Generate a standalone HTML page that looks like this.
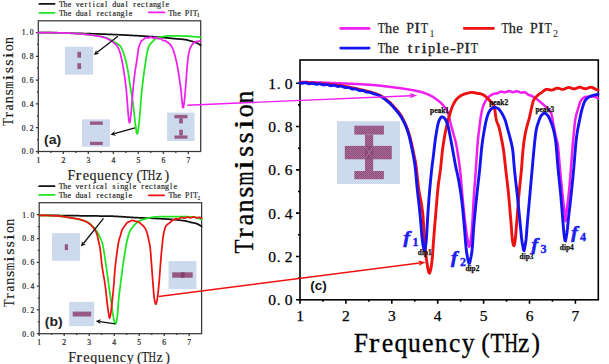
<!DOCTYPE html>
<html><head><meta charset="utf-8"><style>html,body{margin:0;padding:0;background:#fff;overflow:hidden}svg{display:block}</style></head>
<body>
<svg width="609" height="364" viewBox="0 0 609 364">
<rect width="609" height="364" fill="#fff"/>
<defs>
<pattern id="hatch" width="2" height="2" patternUnits="userSpaceOnUse">
<rect width="2" height="2" fill="#ab6e9c"/><rect width="1" height="1" fill="#8a4a7a"/><rect x="1" y="1" width="1" height="1" fill="#8a4a7a"/>
</pattern>
<pattern id="hatch2" width="2" height="2" patternUnits="userSpaceOnUse">
<rect width="2" height="2" fill="#bb88ad"/><rect width="1" height="1" fill="#a0628e"/><rect x="1" y="1" width="1" height="1" fill="#a0628e"/>
</pattern>
</defs>
<rect x="38.30" y="20.80" width="162.40" height="130.70" fill="none" stroke="#383838" stroke-width="1.25"/>
<path d="M38.30 151.50H35.90M38.30 139.60H36.90M38.30 127.70H35.90M38.30 115.80H36.90M38.30 103.90H35.90M38.30 92.00H36.90M38.30 80.10H35.90M38.30 68.20H36.90M38.30 56.30H35.90M38.30 44.40H36.90M38.30 32.50H35.90M38.30 151.50V153.90M50.80 151.50V152.90M63.30 151.50V153.90M75.80 151.50V152.90M88.30 151.50V153.90M100.80 151.50V152.90M113.30 151.50V153.90M125.80 151.50V152.90M138.30 151.50V153.90M150.80 151.50V152.90M163.30 151.50V153.90M175.80 151.50V152.90M188.30 151.50V153.90" stroke="#383838" stroke-width="1.25" fill="none"/>
<rect x="39.20" y="202.70" width="162.40" height="131.00" fill="none" stroke="#383838" stroke-width="1.25"/>
<path d="M39.20 333.70H36.80M39.20 321.80H37.80M39.20 309.90H36.80M39.20 298.00H37.80M39.20 286.10H36.80M39.20 274.20H37.80M39.20 262.30H36.80M39.20 250.40H37.80M39.20 238.50H36.80M39.20 226.60H37.80M39.20 214.70H36.80M39.20 333.70V336.10M51.70 333.70V335.10M64.20 333.70V336.10M76.70 333.70V335.10M89.20 333.70V336.10M101.70 333.70V335.10M114.20 333.70V336.10M126.70 333.70V335.10M139.20 333.70V336.10M151.70 333.70V335.10M164.20 333.70V336.10M176.70 333.70V335.10M189.20 333.70V336.10" stroke="#383838" stroke-width="1.25" fill="none"/>
<rect x="300.00" y="60.00" width="298.30" height="239.80" fill="none" stroke="#000" stroke-width="1.60"/>
<path d="M300.00 299.80H296.00M300.00 278.14H298.00M300.00 256.48H296.00M300.00 234.82H298.00M300.00 213.16H296.00M300.00 191.50H298.00M300.00 169.84H296.00M300.00 148.18H298.00M300.00 126.52H296.00M300.00 104.86H298.00M300.00 83.20H296.00M300.00 299.80V303.80M322.95 299.80V301.80M345.90 299.80V303.80M368.85 299.80V301.80M391.80 299.80V303.80M414.75 299.80V301.80M437.70 299.80V303.80M460.65 299.80V301.80M483.60 299.80V303.80M506.55 299.80V301.80M529.50 299.80V303.80M552.45 299.80V301.80M575.40 299.80V303.80" stroke="#000" stroke-width="1.60" fill="none"/>
<text x="23.60 27.20 31.70" y="154.40" text-anchor="middle" font-family="'Liberation Serif', serif" font-size="7.60" fill="#222" font-weight="normal" stroke="#222" stroke-width="0.2">0.0</text>
<text x="23.60 27.20 31.70" y="130.60" text-anchor="middle" font-family="'Liberation Serif', serif" font-size="7.60" fill="#222" font-weight="normal" stroke="#222" stroke-width="0.2">0.2</text>
<text x="23.60 27.20 31.70" y="106.80" text-anchor="middle" font-family="'Liberation Serif', serif" font-size="7.60" fill="#222" font-weight="normal" stroke="#222" stroke-width="0.2">0.4</text>
<text x="23.60 27.20 31.70" y="83.00" text-anchor="middle" font-family="'Liberation Serif', serif" font-size="7.60" fill="#222" font-weight="normal" stroke="#222" stroke-width="0.2">0.6</text>
<text x="23.60 27.20 31.70" y="59.20" text-anchor="middle" font-family="'Liberation Serif', serif" font-size="7.60" fill="#222" font-weight="normal" stroke="#222" stroke-width="0.2">0.8</text>
<text x="23.60 27.20 31.70" y="35.40" text-anchor="middle" font-family="'Liberation Serif', serif" font-size="7.60" fill="#222" font-weight="normal" stroke="#222" stroke-width="0.2">1.0</text>
<text x="38.30" y="162.70" text-anchor="middle" font-family="'Liberation Serif', serif" font-size="7.60" fill="#222" font-weight="normal" stroke="#222" stroke-width="0.2">1</text>
<text x="63.30" y="162.70" text-anchor="middle" font-family="'Liberation Serif', serif" font-size="7.60" fill="#222" font-weight="normal" stroke="#222" stroke-width="0.2">2</text>
<text x="88.30" y="162.70" text-anchor="middle" font-family="'Liberation Serif', serif" font-size="7.60" fill="#222" font-weight="normal" stroke="#222" stroke-width="0.2">3</text>
<text x="113.30" y="162.70" text-anchor="middle" font-family="'Liberation Serif', serif" font-size="7.60" fill="#222" font-weight="normal" stroke="#222" stroke-width="0.2">4</text>
<text x="138.30" y="162.70" text-anchor="middle" font-family="'Liberation Serif', serif" font-size="7.60" fill="#222" font-weight="normal" stroke="#222" stroke-width="0.2">5</text>
<text x="163.30" y="162.70" text-anchor="middle" font-family="'Liberation Serif', serif" font-size="7.60" fill="#222" font-weight="normal" stroke="#222" stroke-width="0.2">6</text>
<text x="188.30" y="162.70" text-anchor="middle" font-family="'Liberation Serif', serif" font-size="7.60" fill="#222" font-weight="normal" stroke="#222" stroke-width="0.2">7</text>
<text x="24.20 27.80 32.30" y="336.60" text-anchor="middle" font-family="'Liberation Serif', serif" font-size="7.60" fill="#222" font-weight="normal" stroke="#222" stroke-width="0.2">0.0</text>
<text x="24.20 27.80 32.30" y="312.80" text-anchor="middle" font-family="'Liberation Serif', serif" font-size="7.60" fill="#222" font-weight="normal" stroke="#222" stroke-width="0.2">0.2</text>
<text x="24.20 27.80 32.30" y="289.00" text-anchor="middle" font-family="'Liberation Serif', serif" font-size="7.60" fill="#222" font-weight="normal" stroke="#222" stroke-width="0.2">0.4</text>
<text x="24.20 27.80 32.30" y="265.20" text-anchor="middle" font-family="'Liberation Serif', serif" font-size="7.60" fill="#222" font-weight="normal" stroke="#222" stroke-width="0.2">0.6</text>
<text x="24.20 27.80 32.30" y="241.40" text-anchor="middle" font-family="'Liberation Serif', serif" font-size="7.60" fill="#222" font-weight="normal" stroke="#222" stroke-width="0.2">0.8</text>
<text x="24.20 27.80 32.30" y="217.60" text-anchor="middle" font-family="'Liberation Serif', serif" font-size="7.60" fill="#222" font-weight="normal" stroke="#222" stroke-width="0.2">1.0</text>
<text x="39.20" y="344.90" text-anchor="middle" font-family="'Liberation Serif', serif" font-size="7.60" fill="#222" font-weight="normal" stroke="#222" stroke-width="0.2">1</text>
<text x="64.20" y="344.90" text-anchor="middle" font-family="'Liberation Serif', serif" font-size="7.60" fill="#222" font-weight="normal" stroke="#222" stroke-width="0.2">2</text>
<text x="89.20" y="344.90" text-anchor="middle" font-family="'Liberation Serif', serif" font-size="7.60" fill="#222" font-weight="normal" stroke="#222" stroke-width="0.2">3</text>
<text x="114.20" y="344.90" text-anchor="middle" font-family="'Liberation Serif', serif" font-size="7.60" fill="#222" font-weight="normal" stroke="#222" stroke-width="0.2">4</text>
<text x="139.20" y="344.90" text-anchor="middle" font-family="'Liberation Serif', serif" font-size="7.60" fill="#222" font-weight="normal" stroke="#222" stroke-width="0.2">5</text>
<text x="164.20" y="344.90" text-anchor="middle" font-family="'Liberation Serif', serif" font-size="7.60" fill="#222" font-weight="normal" stroke="#222" stroke-width="0.2">6</text>
<text x="189.20" y="344.90" text-anchor="middle" font-family="'Liberation Serif', serif" font-size="7.60" fill="#222" font-weight="normal" stroke="#222" stroke-width="0.2">7</text>
<text x="272.20 278.70 288.70" y="305.30" text-anchor="middle" font-family="'Liberation Serif', serif" font-size="15.50" fill="#000" font-weight="normal" stroke="#000" stroke-width="0.25">0.0</text>
<text x="272.20 278.70 288.70" y="261.98" text-anchor="middle" font-family="'Liberation Serif', serif" font-size="15.50" fill="#000" font-weight="normal" stroke="#000" stroke-width="0.25">0.2</text>
<text x="272.20 278.70 288.70" y="218.66" text-anchor="middle" font-family="'Liberation Serif', serif" font-size="15.50" fill="#000" font-weight="normal" stroke="#000" stroke-width="0.25">0.4</text>
<text x="272.20 278.70 288.70" y="175.34" text-anchor="middle" font-family="'Liberation Serif', serif" font-size="15.50" fill="#000" font-weight="normal" stroke="#000" stroke-width="0.25">0.6</text>
<text x="272.20 278.70 288.70" y="132.02" text-anchor="middle" font-family="'Liberation Serif', serif" font-size="15.50" fill="#000" font-weight="normal" stroke="#000" stroke-width="0.25">0.8</text>
<text x="272.20 278.70 288.70" y="88.70" text-anchor="middle" font-family="'Liberation Serif', serif" font-size="15.50" fill="#000" font-weight="normal" stroke="#000" stroke-width="0.25">1.0</text>
<text x="300.00" y="321.30" text-anchor="middle" font-family="'Liberation Serif', serif" font-size="15.50" fill="#000" font-weight="normal" stroke="#000" stroke-width="0.25">1</text>
<text x="345.90" y="321.30" text-anchor="middle" font-family="'Liberation Serif', serif" font-size="15.50" fill="#000" font-weight="normal" stroke="#000" stroke-width="0.25">2</text>
<text x="391.80" y="321.30" text-anchor="middle" font-family="'Liberation Serif', serif" font-size="15.50" fill="#000" font-weight="normal" stroke="#000" stroke-width="0.25">3</text>
<text x="437.70" y="321.30" text-anchor="middle" font-family="'Liberation Serif', serif" font-size="15.50" fill="#000" font-weight="normal" stroke="#000" stroke-width="0.25">4</text>
<text x="483.60" y="321.30" text-anchor="middle" font-family="'Liberation Serif', serif" font-size="15.50" fill="#000" font-weight="normal" stroke="#000" stroke-width="0.25">5</text>
<text x="529.50" y="321.30" text-anchor="middle" font-family="'Liberation Serif', serif" font-size="15.50" fill="#000" font-weight="normal" stroke="#000" stroke-width="0.25">6</text>
<text x="575.40" y="321.30" text-anchor="middle" font-family="'Liberation Serif', serif" font-size="15.50" fill="#000" font-weight="normal" stroke="#000" stroke-width="0.25">7</text>
<text transform="translate(67.45,179.50) scale(0.949,1)" font-family="'Liberation Serif', serif" font-weight="normal" font-style="normal" font-size="14.80" fill="#1a1a1a" stroke="#1a1a1a" stroke-width="0.15">F</text>
<text transform="translate(75.59,179.50) scale(1.177,1)" font-family="'Liberation Serif', serif" font-weight="normal" font-style="normal" font-size="14.80" fill="#1a1a1a" stroke="#1a1a1a" stroke-width="0.15">r</text>
<text transform="translate(82.67,179.50) scale(0.968,1)" font-family="'Liberation Serif', serif" font-weight="normal" font-style="normal" font-size="14.80" fill="#1a1a1a" stroke="#1a1a1a" stroke-width="0.15">e</text>
<text transform="translate(89.53,179.50) scale(0.950,1)" font-family="'Liberation Serif', serif" font-weight="normal" font-style="normal" font-size="14.80" fill="#1a1a1a" stroke="#1a1a1a" stroke-width="0.15">q</text>
<text transform="translate(96.97,179.50) scale(0.950,1)" font-family="'Liberation Serif', serif" font-weight="normal" font-style="normal" font-size="14.80" fill="#1a1a1a" stroke="#1a1a1a" stroke-width="0.15">u</text>
<text transform="translate(104.54,179.50) scale(0.968,1)" font-family="'Liberation Serif', serif" font-weight="normal" font-style="normal" font-size="14.80" fill="#1a1a1a" stroke="#1a1a1a" stroke-width="0.15">e</text>
<text transform="translate(111.47,179.50) scale(0.950,1)" font-family="'Liberation Serif', serif" font-weight="normal" font-style="normal" font-size="14.80" fill="#1a1a1a" stroke="#1a1a1a" stroke-width="0.15">n</text>
<text transform="translate(119.14,179.50) scale(0.955,1)" font-family="'Liberation Serif', serif" font-weight="normal" font-style="normal" font-size="14.80" fill="#1a1a1a" stroke="#1a1a1a" stroke-width="0.15">c</text>
<text transform="translate(126.05,179.50) scale(0.950,1)" font-family="'Liberation Serif', serif" font-weight="normal" font-style="normal" font-size="14.80" fill="#1a1a1a" stroke="#1a1a1a" stroke-width="0.15">y</text>
<text transform="translate(136.38,179.50) scale(0.950,1)" font-family="'Liberation Serif', serif" font-weight="normal" font-style="normal" font-size="14.80" fill="#1a1a1a" stroke="#1a1a1a" stroke-width="0.15">(</text>
<text transform="translate(140.83,179.50) scale(0.809,1)" font-family="'Liberation Serif', serif" font-weight="normal" font-style="normal" font-size="14.80" fill="#1a1a1a" stroke="#1a1a1a" stroke-width="0.15">T</text>
<text transform="translate(147.75,179.50) scale(0.702,1)" font-family="'Liberation Serif', serif" font-weight="normal" font-style="normal" font-size="14.80" fill="#1a1a1a" stroke="#1a1a1a" stroke-width="0.15">H</text>
<text transform="translate(155.69,179.50) scale(0.950,1)" font-family="'Liberation Serif', serif" font-weight="normal" font-style="normal" font-size="14.80" fill="#1a1a1a" stroke="#1a1a1a" stroke-width="0.15">z</text>
<text transform="translate(164.44,179.50) scale(0.950,1)" font-family="'Liberation Serif', serif" font-weight="normal" font-style="normal" font-size="14.80" fill="#1a1a1a" stroke="#1a1a1a" stroke-width="0.15">)</text>
<text transform="translate(68.15,362.40) scale(0.949,1)" font-family="'Liberation Serif', serif" font-weight="normal" font-style="normal" font-size="14.80" fill="#1a1a1a" stroke="#1a1a1a" stroke-width="0.15">F</text>
<text transform="translate(76.29,362.40) scale(1.177,1)" font-family="'Liberation Serif', serif" font-weight="normal" font-style="normal" font-size="14.80" fill="#1a1a1a" stroke="#1a1a1a" stroke-width="0.15">r</text>
<text transform="translate(83.37,362.40) scale(0.968,1)" font-family="'Liberation Serif', serif" font-weight="normal" font-style="normal" font-size="14.80" fill="#1a1a1a" stroke="#1a1a1a" stroke-width="0.15">e</text>
<text transform="translate(90.23,362.40) scale(0.950,1)" font-family="'Liberation Serif', serif" font-weight="normal" font-style="normal" font-size="14.80" fill="#1a1a1a" stroke="#1a1a1a" stroke-width="0.15">q</text>
<text transform="translate(97.67,362.40) scale(0.950,1)" font-family="'Liberation Serif', serif" font-weight="normal" font-style="normal" font-size="14.80" fill="#1a1a1a" stroke="#1a1a1a" stroke-width="0.15">u</text>
<text transform="translate(105.24,362.40) scale(0.968,1)" font-family="'Liberation Serif', serif" font-weight="normal" font-style="normal" font-size="14.80" fill="#1a1a1a" stroke="#1a1a1a" stroke-width="0.15">e</text>
<text transform="translate(112.17,362.40) scale(0.950,1)" font-family="'Liberation Serif', serif" font-weight="normal" font-style="normal" font-size="14.80" fill="#1a1a1a" stroke="#1a1a1a" stroke-width="0.15">n</text>
<text transform="translate(119.84,362.40) scale(0.955,1)" font-family="'Liberation Serif', serif" font-weight="normal" font-style="normal" font-size="14.80" fill="#1a1a1a" stroke="#1a1a1a" stroke-width="0.15">c</text>
<text transform="translate(126.75,362.40) scale(0.950,1)" font-family="'Liberation Serif', serif" font-weight="normal" font-style="normal" font-size="14.80" fill="#1a1a1a" stroke="#1a1a1a" stroke-width="0.15">y</text>
<text transform="translate(137.08,362.40) scale(0.950,1)" font-family="'Liberation Serif', serif" font-weight="normal" font-style="normal" font-size="14.80" fill="#1a1a1a" stroke="#1a1a1a" stroke-width="0.15">(</text>
<text transform="translate(141.53,362.40) scale(0.809,1)" font-family="'Liberation Serif', serif" font-weight="normal" font-style="normal" font-size="14.80" fill="#1a1a1a" stroke="#1a1a1a" stroke-width="0.15">T</text>
<text transform="translate(148.45,362.40) scale(0.702,1)" font-family="'Liberation Serif', serif" font-weight="normal" font-style="normal" font-size="14.80" fill="#1a1a1a" stroke="#1a1a1a" stroke-width="0.15">H</text>
<text transform="translate(156.39,362.40) scale(0.950,1)" font-family="'Liberation Serif', serif" font-weight="normal" font-style="normal" font-size="14.80" fill="#1a1a1a" stroke="#1a1a1a" stroke-width="0.15">z</text>
<text transform="translate(165.14,362.40) scale(0.950,1)" font-family="'Liberation Serif', serif" font-weight="normal" font-style="normal" font-size="14.80" fill="#1a1a1a" stroke="#1a1a1a" stroke-width="0.15">)</text>
<text transform="translate(353.66,352.10) scale(0.950,1)" font-family="'Liberation Serif', serif" font-weight="normal" font-style="normal" font-size="27.00" fill="#000" stroke="#000" stroke-width="0.3">F</text>
<text transform="translate(368.71,352.10) scale(1.169,1)" font-family="'Liberation Serif', serif" font-weight="normal" font-style="normal" font-size="27.00" fill="#000" stroke="#000" stroke-width="0.3">r</text>
<text transform="translate(381.77,352.10) scale(0.961,1)" font-family="'Liberation Serif', serif" font-weight="normal" font-style="normal" font-size="27.00" fill="#000" stroke="#000" stroke-width="0.3">e</text>
<text transform="translate(394.38,352.10) scale(0.950,1)" font-family="'Liberation Serif', serif" font-weight="normal" font-style="normal" font-size="27.00" fill="#000" stroke="#000" stroke-width="0.3">q</text>
<text transform="translate(408.10,352.10) scale(0.950,1)" font-family="'Liberation Serif', serif" font-weight="normal" font-style="normal" font-size="27.00" fill="#000" stroke="#000" stroke-width="0.3">u</text>
<text transform="translate(422.09,352.10) scale(0.961,1)" font-family="'Liberation Serif', serif" font-weight="normal" font-style="normal" font-size="27.00" fill="#000" stroke="#000" stroke-width="0.3">e</text>
<text transform="translate(434.83,352.10) scale(0.950,1)" font-family="'Liberation Serif', serif" font-weight="normal" font-style="normal" font-size="27.00" fill="#000" stroke="#000" stroke-width="0.3">n</text>
<text transform="translate(448.99,352.10) scale(0.950,1)" font-family="'Liberation Serif', serif" font-weight="normal" font-style="normal" font-size="27.00" fill="#000" stroke="#000" stroke-width="0.3">c</text>
<text transform="translate(461.70,352.10) scale(0.950,1)" font-family="'Liberation Serif', serif" font-weight="normal" font-style="normal" font-size="27.00" fill="#000" stroke="#000" stroke-width="0.3">y</text>
<text transform="translate(481.18,352.10) scale(0.950,1)" font-family="'Liberation Serif', serif" font-weight="normal" font-style="normal" font-size="27.00" fill="#000" stroke="#000" stroke-width="0.3">(</text>
<text transform="translate(490.50,352.10) scale(0.823,1)" font-family="'Liberation Serif', serif" font-weight="normal" font-style="normal" font-size="27.00" fill="#000" stroke="#000" stroke-width="0.3">T</text>
<text transform="translate(504.14,352.10) scale(0.714,1)" font-family="'Liberation Serif', serif" font-weight="normal" font-style="normal" font-size="27.00" fill="#000" stroke="#000" stroke-width="0.3">H</text>
<text transform="translate(518.02,352.10) scale(0.950,1)" font-family="'Liberation Serif', serif" font-weight="normal" font-style="normal" font-size="27.00" fill="#000" stroke="#000" stroke-width="0.3">z</text>
<text transform="translate(531.38,352.10) scale(0.950,1)" font-family="'Liberation Serif', serif" font-weight="normal" font-style="normal" font-size="27.00" fill="#000" stroke="#000" stroke-width="0.3">)</text>
<text transform="translate(13.30,125.77) rotate(-90) scale(0.833,1)" font-family="'Liberation Serif', serif" font-weight="normal" font-style="normal" font-size="14.80" fill="#1a1a1a" stroke="#1a1a1a" stroke-width="0.15">T</text>
<text transform="translate(13.30,117.41) rotate(-90) scale(1.111,1)" font-family="'Liberation Serif', serif" font-weight="normal" font-style="normal" font-size="14.80" fill="#1a1a1a" stroke="#1a1a1a" stroke-width="0.15">r</text>
<text transform="translate(13.30,110.43) rotate(-90) scale(0.950,1)" font-family="'Liberation Serif', serif" font-weight="normal" font-style="normal" font-size="14.80" fill="#1a1a1a" stroke="#1a1a1a" stroke-width="0.15">a</text>
<text transform="translate(13.30,103.31) rotate(-90) scale(0.950,1)" font-family="'Liberation Serif', serif" font-weight="normal" font-style="normal" font-size="14.80" fill="#1a1a1a" stroke="#1a1a1a" stroke-width="0.15">n</text>
<text transform="translate(13.30,95.48) rotate(-90) scale(1.083,1)" font-family="'Liberation Serif', serif" font-weight="normal" font-style="normal" font-size="14.80" fill="#1a1a1a" stroke="#1a1a1a" stroke-width="0.15">s</text>
<text transform="translate(13.30,88.65) rotate(-90) scale(0.647,1)" font-family="'Liberation Serif', serif" font-weight="normal" font-style="normal" font-size="14.80" fill="#1a1a1a" stroke="#1a1a1a" stroke-width="0.15">m</text>
<text transform="translate(13.30,80.42) rotate(-90) scale(1.421,1)" font-family="'Liberation Serif', serif" font-weight="normal" font-style="normal" font-size="14.80" fill="#1a1a1a" stroke="#1a1a1a" stroke-width="0.15">i</text>
<text transform="translate(13.30,73.22) rotate(-90) scale(1.083,1)" font-family="'Liberation Serif', serif" font-weight="normal" font-style="normal" font-size="14.80" fill="#1a1a1a" stroke="#1a1a1a" stroke-width="0.15">s</text>
<text transform="translate(13.30,65.80) rotate(-90) scale(1.083,1)" font-family="'Liberation Serif', serif" font-weight="normal" font-style="normal" font-size="14.80" fill="#1a1a1a" stroke="#1a1a1a" stroke-width="0.15">s</text>
<text transform="translate(13.30,58.16) rotate(-90) scale(1.421,1)" font-family="'Liberation Serif', serif" font-weight="normal" font-style="normal" font-size="14.80" fill="#1a1a1a" stroke="#1a1a1a" stroke-width="0.15">i</text>
<text transform="translate(13.30,51.31) rotate(-90) scale(0.950,1)" font-family="'Liberation Serif', serif" font-weight="normal" font-style="normal" font-size="14.80" fill="#1a1a1a" stroke="#1a1a1a" stroke-width="0.15">o</text>
<text transform="translate(13.30,43.95) rotate(-90) scale(0.950,1)" font-family="'Liberation Serif', serif" font-weight="normal" font-style="normal" font-size="14.80" fill="#1a1a1a" stroke="#1a1a1a" stroke-width="0.15">n</text>
<text transform="translate(14.40,306.97) rotate(-90) scale(0.833,1)" font-family="'Liberation Serif', serif" font-weight="normal" font-style="normal" font-size="14.80" fill="#1a1a1a" stroke="#1a1a1a" stroke-width="0.15">T</text>
<text transform="translate(14.40,298.67) rotate(-90) scale(1.111,1)" font-family="'Liberation Serif', serif" font-weight="normal" font-style="normal" font-size="14.80" fill="#1a1a1a" stroke="#1a1a1a" stroke-width="0.15">r</text>
<text transform="translate(14.40,291.75) rotate(-90) scale(0.950,1)" font-family="'Liberation Serif', serif" font-weight="normal" font-style="normal" font-size="14.80" fill="#1a1a1a" stroke="#1a1a1a" stroke-width="0.15">a</text>
<text transform="translate(14.40,284.69) rotate(-90) scale(0.950,1)" font-family="'Liberation Serif', serif" font-weight="normal" font-style="normal" font-size="14.80" fill="#1a1a1a" stroke="#1a1a1a" stroke-width="0.15">n</text>
<text transform="translate(14.40,276.92) rotate(-90) scale(1.083,1)" font-family="'Liberation Serif', serif" font-weight="normal" font-style="normal" font-size="14.80" fill="#1a1a1a" stroke="#1a1a1a" stroke-width="0.15">s</text>
<text transform="translate(14.40,270.15) rotate(-90) scale(0.647,1)" font-family="'Liberation Serif', serif" font-weight="normal" font-style="normal" font-size="14.80" fill="#1a1a1a" stroke="#1a1a1a" stroke-width="0.15">m</text>
<text transform="translate(14.40,261.98) rotate(-90) scale(1.421,1)" font-family="'Liberation Serif', serif" font-weight="normal" font-style="normal" font-size="14.80" fill="#1a1a1a" stroke="#1a1a1a" stroke-width="0.15">i</text>
<text transform="translate(14.40,254.84) rotate(-90) scale(1.083,1)" font-family="'Liberation Serif', serif" font-weight="normal" font-style="normal" font-size="14.80" fill="#1a1a1a" stroke="#1a1a1a" stroke-width="0.15">s</text>
<text transform="translate(14.40,247.48) rotate(-90) scale(1.083,1)" font-family="'Liberation Serif', serif" font-weight="normal" font-style="normal" font-size="14.80" fill="#1a1a1a" stroke="#1a1a1a" stroke-width="0.15">s</text>
<text transform="translate(14.40,239.90) rotate(-90) scale(1.421,1)" font-family="'Liberation Serif', serif" font-weight="normal" font-style="normal" font-size="14.80" fill="#1a1a1a" stroke="#1a1a1a" stroke-width="0.15">i</text>
<text transform="translate(14.40,233.11) rotate(-90) scale(0.950,1)" font-family="'Liberation Serif', serif" font-weight="normal" font-style="normal" font-size="14.80" fill="#1a1a1a" stroke="#1a1a1a" stroke-width="0.15">o</text>
<text transform="translate(14.40,225.81) rotate(-90) scale(0.950,1)" font-family="'Liberation Serif', serif" font-weight="normal" font-style="normal" font-size="14.80" fill="#1a1a1a" stroke="#1a1a1a" stroke-width="0.15">n</text>
<text transform="translate(253.20,253.51) rotate(-90) scale(0.833,1)" font-family="'Liberation Serif', serif" font-weight="normal" font-style="normal" font-size="27.50" fill="#000" stroke="#000" stroke-width="0.3">T</text>
<text transform="translate(253.20,238.01) rotate(-90) scale(1.076,1)" font-family="'Liberation Serif', serif" font-weight="normal" font-style="normal" font-size="27.50" fill="#000" stroke="#000" stroke-width="0.3">r</text>
<text transform="translate(253.20,225.42) rotate(-90) scale(0.950,1)" font-family="'Liberation Serif', serif" font-weight="normal" font-style="normal" font-size="27.50" fill="#000" stroke="#000" stroke-width="0.3">a</text>
<text transform="translate(253.20,212.39) rotate(-90) scale(0.950,1)" font-family="'Liberation Serif', serif" font-weight="normal" font-style="normal" font-size="27.50" fill="#000" stroke="#000" stroke-width="0.3">n</text>
<text transform="translate(253.20,197.86) rotate(-90) scale(1.049,1)" font-family="'Liberation Serif', serif" font-weight="normal" font-style="normal" font-size="27.50" fill="#000" stroke="#000" stroke-width="0.3">s</text>
<text transform="translate(253.20,185.57) rotate(-90) scale(0.648,1)" font-family="'Liberation Serif', serif" font-weight="normal" font-style="normal" font-size="27.50" fill="#000" stroke="#000" stroke-width="0.3">m</text>
<text transform="translate(253.20,170.31) rotate(-90) scale(1.376,1)" font-family="'Liberation Serif', serif" font-weight="normal" font-style="normal" font-size="27.50" fill="#000" stroke="#000" stroke-width="0.3">i</text>
<text transform="translate(253.20,157.12) rotate(-90) scale(1.049,1)" font-family="'Liberation Serif', serif" font-weight="normal" font-style="normal" font-size="27.50" fill="#000" stroke="#000" stroke-width="0.3">s</text>
<text transform="translate(253.20,143.54) rotate(-90) scale(1.049,1)" font-family="'Liberation Serif', serif" font-weight="normal" font-style="normal" font-size="27.50" fill="#000" stroke="#000" stroke-width="0.3">s</text>
<text transform="translate(253.20,129.57) rotate(-90) scale(1.376,1)" font-family="'Liberation Serif', serif" font-weight="normal" font-style="normal" font-size="27.50" fill="#000" stroke="#000" stroke-width="0.3">i</text>
<text transform="translate(253.20,117.23) rotate(-90) scale(0.950,1)" font-family="'Liberation Serif', serif" font-weight="normal" font-style="normal" font-size="27.50" fill="#000" stroke="#000" stroke-width="0.3">o</text>
<text transform="translate(253.20,103.75) rotate(-90) scale(0.950,1)" font-family="'Liberation Serif', serif" font-weight="normal" font-style="normal" font-size="27.50" fill="#000" stroke="#000" stroke-width="0.3">n</text>
<polyline points="38.3,32.50 38.8,32.51 39.3,32.52 39.8,32.52 40.3,32.53 40.8,32.54 41.3,32.55 41.8,32.55 42.3,32.56 42.8,32.57 43.3,32.58 43.8,32.59 44.3,32.60 44.8,32.60 45.3,32.61 45.8,32.62 46.3,32.63 46.8,32.64 47.3,32.65 47.8,32.66 48.3,32.67 48.8,32.68 49.3,32.68 49.8,32.69 50.3,32.70 50.8,32.71 51.3,32.72 51.8,32.73 52.3,32.74 52.8,32.75 53.3,32.76 53.8,32.77 54.3,32.78 54.8,32.79 55.3,32.80 55.8,32.81 56.3,32.82 56.8,32.83 57.3,32.84 57.8,32.85 58.3,32.86 58.8,32.87 59.3,32.88 59.8,32.90 60.3,32.91 60.8,32.92 61.3,32.93 61.8,32.94 62.3,32.95 62.8,32.96 63.3,32.97 63.8,32.98 64.3,33.00 64.8,33.01 65.3,33.02 65.8,33.03 66.3,33.04 66.8,33.06 67.3,33.07 67.8,33.08 68.3,33.09 68.8,33.10 69.3,33.12 69.8,33.13 70.3,33.14 70.8,33.16 71.3,33.17 71.8,33.18 72.3,33.19 72.8,33.21 73.3,33.22 73.8,33.23 74.3,33.25 74.8,33.26 75.3,33.27 75.8,33.29 76.3,33.30 76.8,33.31 77.3,33.33 77.8,33.34 78.3,33.36 78.8,33.37 79.3,33.38 79.8,33.40 80.3,33.41 80.8,33.43 81.3,33.44 81.8,33.45 82.3,33.47 82.8,33.48 83.3,33.50 83.8,33.51 84.3,33.53 84.8,33.54 85.3,33.56 85.8,33.57 86.3,33.59 86.8,33.60 87.3,33.62 87.8,33.63 88.3,33.65 88.8,33.66 89.3,33.68 89.8,33.69 90.3,33.71 90.8,33.72 91.3,33.74 91.8,33.76 92.3,33.77 92.8,33.79 93.3,33.80 93.8,33.82 94.3,33.84 94.8,33.85 95.3,33.87 95.8,33.88 96.3,33.90 96.8,33.92 97.3,33.93 97.8,33.95 98.3,33.97 98.8,33.98 99.3,34.00 99.8,34.02 100.3,34.03 100.8,34.05 101.3,34.07 101.8,34.09 102.3,34.10 102.8,34.12 103.3,34.14 103.8,34.16 104.3,34.17 104.8,34.19 105.3,34.21 105.8,34.23 106.3,34.25 106.8,34.27 107.3,34.28 107.8,34.30 108.3,34.32 108.8,34.34 109.3,34.36 109.8,34.38 110.3,34.40 110.8,34.42 111.3,34.44 111.8,34.46 112.3,34.48 112.8,34.50 113.3,34.52 113.8,34.54 114.3,34.56 114.8,34.58 115.3,34.60 115.8,34.62 116.3,34.64 116.8,34.66 117.3,34.68 117.8,34.70 118.3,34.73 118.8,34.75 119.3,34.77 119.8,34.79 120.3,34.81 120.8,34.84 121.3,34.86 121.8,34.88 122.3,34.91 122.8,34.93 123.3,34.96 123.8,34.98 124.3,35.01 124.8,35.03 125.3,35.06 125.8,35.08 126.3,35.11 126.8,35.14 127.3,35.16 127.8,35.19 128.3,35.22 128.8,35.25 129.3,35.27 129.8,35.30 130.3,35.33 130.8,35.36 131.3,35.39 131.8,35.41 132.3,35.44 132.8,35.47 133.3,35.50 133.8,35.53 134.3,35.56 134.8,35.59 135.3,35.62 135.8,35.65 136.3,35.68 136.8,35.71 137.3,35.74 137.8,35.76 138.3,35.79 138.8,35.82 139.3,35.85 139.8,35.88 140.3,35.92 140.8,35.95 141.3,35.98 141.8,36.01 142.3,36.04 142.8,36.07 143.3,36.10 143.8,36.13 144.3,36.16 144.8,36.20 145.3,36.23 145.8,36.26 146.3,36.29 146.8,36.33 147.3,36.36 147.8,36.39 148.3,36.43 148.8,36.46 149.3,36.49 149.8,36.53 150.3,36.56 150.8,36.60 151.3,36.63 151.8,36.67 152.3,36.70 152.8,36.74 153.3,36.77 153.8,36.81 154.3,36.85 154.8,36.89 155.3,36.92 155.8,36.96 156.3,37.00 156.8,37.04 157.3,37.08 157.8,37.12 158.3,37.16 158.8,37.20 159.3,37.24 159.8,37.28 160.3,37.32 160.8,37.37 161.3,37.41 161.8,37.45 162.3,37.50 162.8,37.54 163.3,37.58 163.8,37.63 164.3,37.67 164.8,37.72 165.3,37.76 165.8,37.81 166.3,37.86 166.8,37.90 167.3,37.95 167.8,37.99 168.3,38.04 168.8,38.09 169.3,38.13 169.8,38.18 170.3,38.23 170.8,38.28 171.3,38.33 171.8,38.38 172.3,38.43 172.8,38.48 173.3,38.53 173.8,38.58 174.3,38.63 174.8,38.68 175.3,38.73 175.8,38.77 176.3,38.82 176.8,38.86 177.3,38.89 177.8,38.93 178.3,38.97 178.8,39.01 179.3,39.04 179.8,39.08 180.3,39.12 180.8,39.16 181.3,39.20 181.8,39.24 182.3,39.29 182.8,39.34 183.3,39.39 183.8,39.45 184.3,39.51 184.8,39.57 185.3,39.64 185.8,39.73 186.3,39.83 186.8,39.95 187.3,40.07 187.8,40.20 188.3,40.33 188.8,40.47 189.3,40.61 189.8,40.75 190.3,40.88 190.8,41.01 191.3,41.15 191.8,41.29 192.3,41.43 192.8,41.58 193.3,41.73 193.8,41.89 194.3,42.06 194.8,42.23 195.3,42.41 195.8,42.60 196.3,42.81 196.8,43.02 197.3,43.25 197.8,43.50 198.3,43.76 198.8,44.04 199.3,44.35 199.8,44.67 200.3,45.02 200.7,45.30" fill="none" stroke="#111" stroke-width="1.75" stroke-linejoin="round" stroke-linecap="round"/>
<polyline points="38.3,32.50 38.8,32.50 39.3,32.50 39.8,32.50 40.3,32.50 40.8,32.51 41.3,32.51 41.8,32.51 42.3,32.51 42.8,32.52 43.3,32.52 43.8,32.52 44.3,32.53 44.8,32.53 45.3,32.54 45.8,32.54 46.3,32.55 46.8,32.56 47.3,32.56 47.8,32.57 48.3,32.58 48.8,32.58 49.3,32.59 49.8,32.60 50.3,32.61 50.8,32.62 51.3,32.62 51.8,32.63 52.3,32.64 52.8,32.65 53.3,32.66 53.8,32.67 54.3,32.68 54.8,32.69 55.3,32.70 55.8,32.71 56.3,32.72 56.8,32.73 57.3,32.74 57.8,32.75 58.3,32.76 58.8,32.77 59.3,32.78 59.8,32.80 60.3,32.81 60.8,32.82 61.3,32.83 61.8,32.85 62.3,32.86 62.8,32.88 63.3,32.90 63.8,32.92 64.3,32.94 64.8,32.96 65.3,32.98 65.8,33.00 66.3,33.02 66.8,33.05 67.3,33.07 67.8,33.10 68.3,33.13 68.8,33.15 69.3,33.18 69.8,33.21 70.3,33.24 70.8,33.27 71.3,33.30 71.8,33.33 72.3,33.36 72.8,33.39 73.3,33.43 73.8,33.46 74.3,33.49 74.8,33.53 75.3,33.56 75.8,33.60 76.3,33.63 76.8,33.67 77.3,33.70 77.8,33.74 78.3,33.78 78.8,33.81 79.3,33.85 79.8,33.89 80.3,33.92 80.8,33.96 81.3,34.00 81.8,34.04 82.3,34.08 82.8,34.12 83.3,34.17 83.8,34.21 84.3,34.26 84.8,34.30 85.3,34.35 85.8,34.40 86.3,34.45 86.8,34.50 87.3,34.56 87.8,34.61 88.3,34.66 88.8,34.72 89.3,34.78 89.8,34.83 90.3,34.89 90.8,34.95 91.3,35.01 91.8,35.08 92.3,35.14 92.8,35.20 93.3,35.27 93.8,35.34 94.3,35.40 94.8,35.47 95.3,35.54 95.8,35.61 96.3,35.68 96.8,35.76 97.3,35.83 97.8,35.91 98.3,35.99 98.8,36.07 99.3,36.16 99.8,36.25 100.3,36.34 100.8,36.43 101.3,36.53 101.8,36.63 102.3,36.74 102.8,36.85 103.3,36.97 103.8,37.09 104.3,37.21 104.8,37.35 105.3,37.49 105.8,37.65 106.3,37.83 106.8,38.02 107.3,38.23 107.8,38.45 108.3,38.69 108.8,38.92 109.3,39.16 109.8,39.40 110.3,39.65 110.8,39.90 111.3,40.15 111.8,40.42 112.3,40.70 112.8,40.98 113.3,41.27 113.8,41.56 114.3,41.87 114.8,42.18 115.3,42.48 115.8,42.78 116.3,43.06 116.8,43.35 117.3,43.65 117.8,43.96 118.3,44.30 118.8,44.68 119.3,45.10 119.8,45.58 120.3,46.12 120.8,46.80 121.3,47.65 121.8,48.67 122.3,49.82 122.8,51.10 123.3,52.50 123.8,54.00 124.3,55.58 124.8,57.24 125.3,58.95 125.8,60.73 126.3,62.79 126.8,65.13 127.3,67.69 127.8,70.42 128.3,73.26 128.8,76.21 129.3,79.53 129.8,83.09 130.3,86.66 130.8,90.00 131.3,92.95 131.8,95.73 132.3,98.69 132.8,102.15 133.3,106.12 133.8,110.32 134.3,114.64 134.8,119.35 135.3,123.78 135.8,127.38 136.3,130.92 136.8,133.49 137.3,133.81 137.8,131.92 138.3,128.79 138.8,125.27 139.3,120.59 139.8,114.81 140.3,108.78 140.8,102.00 141.3,95.93 141.8,90.91 142.3,86.32 142.8,82.09 143.3,78.09 143.8,74.24 144.3,70.61 144.8,67.20 145.3,63.91 145.8,60.65 146.3,57.27 146.8,54.05 147.3,51.64 147.8,49.60 148.3,47.87 148.8,46.50 149.3,45.43 149.8,44.59 150.3,43.90 150.8,43.31 151.3,42.78 151.8,42.29 152.3,41.83 152.8,41.38 153.3,40.92 153.8,40.43 154.3,39.95 154.8,39.47 155.3,39.02 155.8,38.61 156.3,38.26 156.8,37.99 157.3,37.79 157.8,37.62 158.3,37.48 158.8,37.36 159.3,37.25 159.8,37.14 160.3,37.04 160.8,36.94 161.3,36.85 161.8,36.76 162.3,36.68 162.8,36.60 163.3,36.53 163.8,36.46 164.3,36.39 164.8,36.32 165.3,36.26 165.8,36.20 166.3,36.13 166.8,36.06 167.3,36.00 167.8,35.94 168.3,35.89 168.8,35.85 169.3,35.82 169.8,35.80 170.3,35.80 170.8,35.80 171.3,35.80 171.8,35.81 172.3,35.81 172.8,35.81 173.3,35.82 173.8,35.83 174.3,35.83 174.8,35.84 175.3,35.85 175.8,35.86 176.3,35.87 176.8,35.88 177.3,35.89 177.8,35.90 178.3,35.91 178.8,35.92 179.3,35.93 179.8,35.95 180.3,35.96 180.8,35.97 181.3,35.99 181.8,36.00 182.3,36.02 182.8,36.03 183.3,36.05 183.8,36.06 184.3,36.08 184.8,36.09 185.3,36.11 185.8,36.13 186.3,36.15 186.8,36.17 187.3,36.19 187.8,36.22 188.3,36.24 188.8,36.27 189.3,36.30 189.8,36.33 190.3,36.37 190.8,36.40 191.3,36.44 191.8,36.47 192.3,36.51 192.8,36.55 193.3,36.59 193.8,36.63 194.3,36.68 194.8,36.72 195.3,36.77 195.8,36.81 196.3,36.86 196.8,36.91 197.3,36.95 197.8,37.00 198.3,37.05 198.8,37.10 199.3,37.15 199.8,37.21 200.3,37.26 200.7,37.30" fill="none" stroke="#1ee61e" stroke-width="1.75" stroke-linejoin="round" stroke-linecap="round"/>
<polyline points="38.3,32.50 38.8,32.50 39.3,32.50 39.8,32.50 40.3,32.50 40.8,32.51 41.3,32.51 41.8,32.51 42.3,32.51 42.8,32.52 43.3,32.52 43.8,32.52 44.3,32.53 44.8,32.53 45.3,32.54 45.8,32.54 46.3,32.55 46.8,32.56 47.3,32.56 47.8,32.57 48.3,32.58 48.8,32.58 49.3,32.59 49.8,32.60 50.3,32.61 50.8,32.62 51.3,32.62 51.8,32.63 52.3,32.64 52.8,32.65 53.3,32.66 53.8,32.67 54.3,32.68 54.8,32.69 55.3,32.70 55.8,32.71 56.3,32.72 56.8,32.73 57.3,32.74 57.8,32.75 58.3,32.76 58.8,32.77 59.3,32.78 59.8,32.80 60.3,32.81 60.8,32.82 61.3,32.83 61.8,32.85 62.3,32.86 62.8,32.88 63.3,32.90 63.8,32.92 64.3,32.94 64.8,32.96 65.3,32.98 65.8,33.00 66.3,33.02 66.8,33.05 67.3,33.07 67.8,33.10 68.3,33.12 68.8,33.15 69.3,33.18 69.8,33.21 70.3,33.23 70.8,33.26 71.3,33.30 71.8,33.33 72.3,33.36 72.8,33.39 73.3,33.42 73.8,33.46 74.3,33.49 74.8,33.52 75.3,33.56 75.8,33.59 76.3,33.63 76.8,33.66 77.3,33.70 77.8,33.74 78.3,33.77 78.8,33.81 79.3,33.85 79.8,33.88 80.3,33.92 80.8,33.96 81.3,34.00 81.8,34.04 82.3,34.09 82.8,34.13 83.3,34.18 83.8,34.22 84.3,34.27 84.8,34.32 85.3,34.37 85.8,34.42 86.3,34.47 86.8,34.53 87.3,34.58 87.8,34.64 88.3,34.70 88.8,34.76 89.3,34.82 89.8,34.88 90.3,34.94 90.8,35.01 91.3,35.07 91.8,35.14 92.3,35.21 92.8,35.28 93.3,35.35 93.8,35.42 94.3,35.49 94.8,35.57 95.3,35.65 95.8,35.73 96.3,35.81 96.8,35.89 97.3,35.98 97.8,36.07 98.3,36.16 98.8,36.26 99.3,36.36 99.8,36.47 100.3,36.58 100.8,36.69 101.3,36.80 101.8,36.92 102.3,37.05 102.8,37.18 103.3,37.31 103.8,37.45 104.3,37.59 104.8,37.74 105.3,37.89 105.8,38.06 106.3,38.25 106.8,38.44 107.3,38.65 107.8,38.88 108.3,39.11 108.8,39.36 109.3,39.62 109.8,39.89 110.3,40.18 110.8,40.50 111.3,40.85 111.8,41.23 112.3,41.63 112.8,42.03 113.3,42.44 113.8,42.84 114.3,43.22 114.8,43.59 115.3,43.99 115.8,44.43 116.3,44.92 116.8,45.50 117.3,46.21 117.8,47.07 118.3,48.07 118.8,49.21 119.3,50.47 119.8,51.87 120.3,53.59 120.8,55.56 121.3,57.72 121.8,60.00 122.3,62.44 122.8,65.12 123.3,68.00 123.8,71.08 124.3,74.33 124.8,77.74 125.3,81.40 125.8,85.44 126.3,90.00 126.8,95.67 127.3,102.26 127.8,108.79 128.3,114.98 128.8,119.55 129.3,122.63 129.8,122.33 130.3,119.36 130.8,115.68 131.3,110.66 131.8,105.00 132.3,98.47 132.8,92.00 133.3,86.68 133.8,81.81 134.3,77.42 134.8,73.49 135.3,70.00 135.8,66.82 136.3,63.75 136.8,60.64 137.3,57.22 137.8,53.49 138.3,49.98 138.8,47.25 139.3,45.58 139.8,44.22 140.3,43.06 140.8,42.08 141.3,41.27 141.8,40.62 142.3,40.24 142.8,39.96 143.3,39.61 143.8,39.17 144.3,38.67 144.8,38.21 145.3,37.88 145.8,37.69 146.3,37.66 146.8,37.76 147.3,37.91 147.8,38.02 148.3,38.01 148.8,37.86 149.3,37.62 149.8,37.35 150.3,37.16 150.8,37.11 151.3,37.22 151.8,37.45 152.3,37.73 152.8,37.95 153.3,38.05 153.8,38.00 154.3,37.84 154.8,37.63 155.3,37.49 155.8,37.49 156.3,37.66 156.8,37.96 157.3,38.30 157.8,38.59 158.3,38.77 158.8,38.81 159.3,38.74 159.8,38.66 160.3,38.64 160.8,38.75 161.3,39.03 161.8,39.43 162.3,39.86 162.8,40.25 163.3,40.51 163.8,40.63 164.3,40.65 164.8,40.63 165.3,40.69 165.8,40.89 166.3,41.57 166.8,41.85 167.3,42.15 167.8,42.47 168.3,42.82 168.8,43.20 169.3,43.62 169.8,44.10 170.3,44.64 170.8,45.30 171.3,46.09 171.8,46.98 172.3,47.97 172.8,49.05 173.3,50.23 173.8,51.63 174.3,53.23 174.8,54.98 175.3,56.87 175.8,58.86 176.3,60.92 176.8,63.16 177.3,65.63 177.8,68.31 178.3,71.19 178.8,74.44 179.3,77.91 179.8,81.35 180.3,84.66 180.8,88.32 181.3,93.18 181.8,99.04 182.3,103.84 182.8,107.57 183.3,107.52 183.8,105.08 184.3,101.50 184.8,97.23 185.3,91.23 185.8,84.74 186.3,77.71 186.8,70.94 187.3,64.95 187.8,60.00 188.3,55.95 188.8,53.09 189.3,50.79 189.8,49.04 190.3,47.80 190.8,46.77 191.3,45.88 191.8,45.11 192.3,44.46 192.8,43.90 193.3,43.41 193.8,42.94 194.3,42.50 194.8,42.13 195.3,41.83 195.8,41.64 196.3,41.55 196.8,41.48 197.3,41.42 197.8,41.36 198.3,41.31 198.8,41.27 199.3,41.24 199.8,41.22 200.3,41.20 200.7,41.20" fill="none" stroke="#f01ef0" stroke-width="1.75" stroke-linejoin="round" stroke-linecap="round"/>
<polyline points="39.2,215.30 39.7,215.30 40.2,215.31 40.7,215.31 41.2,215.32 41.7,215.32 42.2,215.32 42.7,215.33 43.2,215.33 43.7,215.34 44.2,215.34 44.7,215.35 45.2,215.35 45.7,215.36 46.2,215.36 46.7,215.36 47.2,215.37 47.7,215.37 48.2,215.38 48.7,215.38 49.2,215.39 49.7,215.39 50.2,215.40 50.7,215.40 51.2,215.41 51.7,215.41 52.2,215.42 52.7,215.42 53.2,215.43 53.7,215.43 54.2,215.44 54.7,215.44 55.2,215.45 55.7,215.45 56.2,215.46 56.7,215.46 57.2,215.47 57.7,215.47 58.2,215.48 58.7,215.49 59.2,215.49 59.7,215.50 60.2,215.50 60.7,215.51 61.2,215.51 61.7,215.52 62.2,215.53 62.7,215.53 63.2,215.54 63.7,215.54 64.2,215.55 64.7,215.55 65.2,215.56 65.7,215.57 66.2,215.57 66.7,215.58 67.2,215.59 67.7,215.59 68.2,215.60 68.7,215.61 69.2,215.61 69.7,215.62 70.2,215.63 70.7,215.63 71.2,215.64 71.7,215.65 72.2,215.65 72.7,215.66 73.2,215.67 73.7,215.67 74.2,215.68 74.7,215.69 75.2,215.69 75.7,215.70 76.2,215.71 76.7,215.71 77.2,215.72 77.7,215.73 78.2,215.74 78.7,215.74 79.2,215.75 79.7,215.76 80.2,215.76 80.7,215.77 81.2,215.78 81.7,215.78 82.2,215.79 82.7,215.80 83.2,215.81 83.7,215.81 84.2,215.82 84.7,215.83 85.2,215.83 85.7,215.84 86.2,215.85 86.7,215.85 87.2,215.86 87.7,215.87 88.2,215.88 88.7,215.88 89.2,215.89 89.7,215.90 90.2,215.90 90.7,215.91 91.2,215.92 91.7,215.92 92.2,215.93 92.7,215.93 93.2,215.94 93.7,215.94 94.2,215.95 94.7,215.96 95.2,215.96 95.7,215.97 96.2,215.97 96.7,215.98 97.2,215.98 97.7,215.99 98.2,215.99 98.7,216.00 99.2,216.00 99.7,216.01 100.2,216.01 100.7,216.02 101.2,216.02 101.7,216.03 102.2,216.04 102.7,216.04 103.2,216.05 103.7,216.05 104.2,216.06 104.7,216.07 105.2,216.07 105.7,216.08 106.2,216.09 106.7,216.10 107.2,216.11 107.7,216.11 108.2,216.12 108.7,216.13 109.2,216.14 109.7,216.15 110.2,216.16 110.7,216.17 111.2,216.18 111.7,216.19 112.2,216.20 112.7,216.22 113.2,216.24 113.7,216.26 114.2,216.28 114.7,216.30 115.2,216.33 115.7,216.35 116.2,216.38 116.7,216.41 117.2,216.44 117.7,216.47 118.2,216.50 118.7,216.53 119.2,216.55 119.7,216.58 120.2,216.61 120.7,216.64 121.2,216.67 121.7,216.70 122.2,216.73 122.7,216.76 123.2,216.80 123.7,216.83 124.2,216.86 124.7,216.90 125.2,216.93 125.7,216.97 126.2,217.00 126.7,217.04 127.2,217.07 127.7,217.11 128.2,217.15 128.7,217.18 129.2,217.22 129.7,217.25 130.2,217.29 130.7,217.32 131.2,217.36 131.7,217.39 132.2,217.42 132.7,217.46 133.2,217.49 133.7,217.52 134.2,217.55 134.7,217.58 135.2,217.61 135.7,217.63 136.2,217.66 136.7,217.69 137.2,217.71 137.7,217.73 138.2,217.75 138.7,217.78 139.2,217.80 139.7,217.82 140.2,217.84 140.7,217.86 141.2,217.87 141.7,217.89 142.2,217.91 142.7,217.93 143.2,217.95 143.7,217.96 144.2,217.98 144.7,218.00 145.2,218.02 145.7,218.03 146.2,218.05 146.7,218.07 147.2,218.09 147.7,218.11 148.2,218.13 148.7,218.15 149.2,218.17 149.7,218.19 150.2,218.21 150.7,218.23 151.2,218.25 151.7,218.28 152.2,218.30 152.7,218.32 153.2,218.35 153.7,218.37 154.2,218.39 154.7,218.42 155.2,218.44 155.7,218.47 156.2,218.49 156.7,218.52 157.2,218.54 157.7,218.57 158.2,218.59 158.7,218.62 159.2,218.65 159.7,218.67 160.2,218.70 160.7,218.73 161.2,218.76 161.7,218.78 162.2,218.81 162.7,218.84 163.2,218.87 163.7,218.90 164.2,218.92 164.7,218.95 165.2,218.98 165.7,219.01 166.2,219.04 166.7,219.07 167.2,219.10 167.7,219.14 168.2,219.17 168.7,219.20 169.2,219.24 169.7,219.28 170.2,219.32 170.7,219.35 171.2,219.39 171.7,219.43 172.2,219.47 172.7,219.51 173.2,219.56 173.7,219.60 174.2,219.64 174.7,219.69 175.2,219.73 175.7,219.78 176.2,219.82 176.7,219.87 177.2,219.92 177.7,219.97 178.2,220.02 178.7,220.08 179.2,220.13 179.7,220.19 180.2,220.25 180.7,220.31 181.2,220.37 181.7,220.43 182.2,220.50 182.7,220.57 183.2,220.63 183.7,220.71 184.2,220.78 184.7,220.85 185.2,220.93 185.7,221.02 186.2,221.12 186.7,221.24 187.2,221.36 187.7,221.48 188.2,221.62 188.7,221.75 189.2,221.89 189.7,222.02 190.2,222.16 190.7,222.29 191.2,222.41 191.7,222.53 192.2,222.64 192.7,222.74 193.2,222.83 193.7,222.91 194.2,223.00 194.7,223.09 195.2,223.20 195.7,223.32 196.2,223.46 196.7,223.64 197.2,223.86 197.7,224.11 198.2,224.37 198.7,224.64 199.2,224.91 199.7,225.19 200.2,225.49 200.7,225.80 201.2,226.13 201.6,226.40" fill="none" stroke="#111" stroke-width="1.75" stroke-linejoin="round" stroke-linecap="round"/>
<polyline points="39.2,215.30 39.7,215.30 40.2,215.30 40.7,215.31 41.2,215.31 41.7,215.32 42.2,215.32 42.7,215.33 43.2,215.34 43.7,215.35 44.2,215.37 44.7,215.38 45.2,215.39 45.7,215.41 46.2,215.42 46.7,215.44 47.2,215.46 47.7,215.48 48.2,215.50 48.7,215.52 49.2,215.54 49.7,215.57 50.2,215.59 50.7,215.62 51.2,215.64 51.7,215.67 52.2,215.70 52.7,215.72 53.2,215.75 53.7,215.78 54.2,215.81 54.7,215.84 55.2,215.87 55.7,215.91 56.2,215.94 56.7,215.97 57.2,216.00 57.7,216.04 58.2,216.07 58.7,216.11 59.2,216.14 59.7,216.18 60.2,216.21 60.7,216.26 61.2,216.31 61.7,216.36 62.2,216.42 62.7,216.49 63.2,216.55 63.7,216.63 64.2,216.71 64.7,216.79 65.2,216.87 65.7,216.95 66.2,217.04 66.7,217.13 67.2,217.22 67.7,217.30 68.2,217.39 68.7,217.48 69.2,217.57 69.7,217.65 70.2,217.73 70.7,217.81 71.2,217.89 71.7,217.97 72.2,218.05 72.7,218.13 73.2,218.21 73.7,218.29 74.2,218.37 74.7,218.46 75.2,218.54 75.7,218.63 76.2,218.72 76.7,218.81 77.2,218.90 77.7,219.00 78.2,219.10 78.7,219.21 79.2,219.32 79.7,219.43 80.2,219.55 80.7,219.68 81.2,219.81 81.7,219.96 82.2,220.11 82.7,220.27 83.2,220.44 83.7,220.62 84.2,220.80 84.7,220.99 85.2,221.18 85.7,221.38 86.2,221.59 86.7,221.82 87.2,222.07 87.7,222.33 88.2,222.62 88.7,222.93 89.2,223.28 89.7,223.65 90.2,224.04 90.7,224.45 91.2,224.88 91.7,225.33 92.2,225.79 92.7,226.27 93.2,226.80 93.7,227.35 94.2,227.92 94.7,228.53 95.2,229.15 95.7,229.81 96.2,230.49 96.7,231.21 97.2,231.97 97.7,232.79 98.2,233.66 98.7,234.65 99.2,235.73 99.7,236.84 100.2,237.92 100.7,238.92 101.2,239.94 101.7,241.14 102.2,242.66 102.7,244.68 103.2,247.15 103.7,249.98 104.2,253.07 104.7,256.34 105.2,259.69 105.7,263.03 106.2,266.32 106.7,269.81 107.2,273.51 107.7,277.33 108.2,281.17 108.7,284.96 109.2,288.60 109.7,292.02 110.2,295.23 110.7,298.38 111.2,301.59 111.7,305.00 112.2,308.93 112.7,312.95 113.2,316.19 113.7,318.92 114.2,321.00 114.7,322.65 115.2,323.78 115.7,323.66 116.2,322.42 116.7,320.56 117.2,316.88 117.7,311.93 118.2,305.12 118.7,298.98 119.2,294.43 119.7,290.44 120.2,286.59 120.7,282.56 121.2,278.52 121.7,274.55 122.2,270.74 122.7,267.10 123.2,263.56 123.7,260.14 124.2,256.88 124.7,253.77 125.2,250.68 125.7,247.67 126.2,244.82 126.7,242.23 127.2,240.00 127.7,238.03 128.2,236.19 128.7,234.52 129.2,233.03 129.7,231.75 130.2,230.71 130.7,229.82 131.2,229.04 131.7,228.34 132.2,227.70 132.7,227.07 133.2,226.45 133.7,225.84 134.2,225.24 134.7,224.68 135.2,224.15 135.7,223.67 136.2,223.23 136.7,222.81 137.2,222.40 137.7,222.01 138.2,221.65 138.7,221.31 139.2,221.01 139.7,220.74 140.2,220.51 140.7,220.31 141.2,220.12 141.7,219.95 142.2,219.79 142.7,219.64 143.2,219.50 143.7,219.36 144.2,219.22 144.7,219.09 145.2,218.94 145.7,218.80 146.2,218.65 146.7,218.51 147.2,218.37 147.7,218.23 148.2,218.10 148.7,217.98 149.2,217.86 149.7,217.76 150.2,217.66 150.7,217.58 151.2,217.49 151.7,217.41 152.2,217.33 152.7,217.26 153.2,217.19 153.7,217.13 154.2,217.08 154.7,217.03 155.2,216.98 155.7,216.94 156.2,216.90 156.7,216.86 157.2,216.83 157.7,216.79 158.2,216.76 158.7,216.73 159.2,216.70 159.7,216.67 160.2,216.65 160.7,216.63 161.2,216.62 161.7,216.61 162.2,216.60 162.7,216.59 163.2,216.58 163.7,216.58 164.2,216.57 164.7,216.56 165.2,216.56 165.7,216.55 166.2,216.55 166.7,216.54 167.2,216.54 167.7,216.53 168.2,216.53 168.7,216.52 169.2,216.52 169.7,216.52 170.2,216.51 170.7,216.51 171.2,216.51 171.7,216.51 172.2,216.50 172.7,216.50 173.2,216.50 173.7,216.50 174.2,216.50 174.7,216.50 175.2,216.50 175.7,216.50 176.2,216.50 176.7,216.50 177.2,216.51 177.7,216.51 178.2,216.51 178.7,216.52 179.2,216.52 179.7,216.53 180.2,216.53 180.7,216.54 181.2,216.55 181.7,216.55 182.2,216.56 182.7,216.57 183.2,216.58 183.7,216.60 184.2,216.61 184.7,216.62 185.2,216.63 185.7,216.65 186.2,216.67 186.7,216.68 187.2,216.70 187.7,216.72 188.2,216.74 188.7,216.76 189.2,216.78 189.7,216.80 190.2,216.82 190.7,216.85 191.2,216.87 191.7,216.90 192.2,216.93 192.7,216.95 193.2,216.98 193.7,217.02 194.2,217.05 194.7,217.08 195.2,217.12 195.7,217.21 196.2,217.34 196.7,217.51 197.2,217.69 197.7,217.89 198.2,218.08 198.7,218.28 199.2,218.50 199.7,218.74 200.2,219.00 200.7,219.27 201.2,219.56 201.6,219.80" fill="none" stroke="#1ee61e" stroke-width="1.75" stroke-linejoin="round" stroke-linecap="round"/>
<polyline points="39.2,215.30 39.7,215.30 40.2,215.30 40.7,215.31 41.2,215.31 41.7,215.32 42.2,215.32 42.7,215.33 43.2,215.34 43.7,215.35 44.2,215.37 44.7,215.38 45.2,215.39 45.7,215.41 46.2,215.42 46.7,215.44 47.2,215.46 47.7,215.48 48.2,215.50 48.7,215.52 49.2,215.54 49.7,215.57 50.2,215.59 50.7,215.62 51.2,215.64 51.7,215.67 52.2,215.70 52.7,215.72 53.2,215.75 53.7,215.78 54.2,215.81 54.7,215.84 55.2,215.87 55.7,215.91 56.2,215.94 56.7,215.97 57.2,216.00 57.7,216.04 58.2,216.07 58.7,216.11 59.2,216.14 59.7,216.18 60.2,216.21 60.7,216.26 61.2,216.31 61.7,216.36 62.2,216.42 62.7,216.49 63.2,216.55 63.7,216.63 64.2,216.71 64.7,216.79 65.2,216.87 65.7,216.95 66.2,217.04 66.7,217.13 67.2,217.22 67.7,217.30 68.2,217.39 68.7,217.48 69.2,217.57 69.7,217.65 70.2,217.73 70.7,217.81 71.2,217.89 71.7,217.97 72.2,218.05 72.7,218.13 73.2,218.21 73.7,218.29 74.2,218.37 74.7,218.45 75.2,218.53 75.7,218.62 76.2,218.71 76.7,218.80 77.2,218.89 77.7,218.99 78.2,219.09 78.7,219.20 79.2,219.31 79.7,219.43 80.2,219.55 80.7,219.68 81.2,219.82 81.7,219.98 82.2,220.14 82.7,220.31 83.2,220.49 83.7,220.67 84.2,220.87 84.7,221.07 85.2,221.29 85.7,221.51 86.2,221.76 86.7,222.03 87.2,222.31 87.7,222.61 88.2,222.93 88.7,223.27 89.2,223.63 89.7,224.02 90.2,224.43 90.7,224.86 91.2,225.32 91.7,225.80 92.2,226.31 92.7,226.85 93.2,227.43 93.7,228.07 94.2,228.76 94.7,229.51 95.2,230.34 95.7,231.26 96.2,232.31 96.7,233.55 97.2,235.07 97.7,237.19 98.2,239.54 98.7,241.73 99.2,243.87 99.7,246.29 100.2,249.37 100.7,253.71 101.2,258.68 101.7,263.39 102.2,267.16 102.7,270.44 103.2,273.43 103.7,276.28 104.2,279.15 104.7,282.18 105.2,285.54 105.7,289.42 106.2,293.97 106.7,298.77 107.2,303.34 107.7,307.39 108.2,311.11 108.7,314.20 109.2,317.09 109.7,318.04 110.2,316.39 110.7,313.57 111.2,310.21 111.7,305.75 112.2,301.09 112.7,296.45 113.2,291.54 113.7,286.15 114.2,279.59 114.7,272.38 115.2,267.02 115.7,262.75 116.2,258.80 116.7,254.75 117.2,250.83 117.7,247.34 118.2,244.15 118.7,241.35 119.2,239.26 119.7,237.75 120.2,236.32 120.7,234.55 121.2,232.57 121.7,230.79 122.2,229.59 122.7,228.69 123.2,227.93 123.7,227.27 124.2,226.65 124.7,226.01 125.2,225.30 125.7,224.50 126.2,223.72 126.7,223.07 127.2,222.66 127.7,222.36 128.2,222.12 128.7,221.91 129.2,221.72 129.7,221.52 130.2,221.31 130.7,221.05 131.2,220.79 131.7,220.57 132.2,220.43 132.7,220.41 133.2,220.52 133.7,220.71 134.2,220.92 134.7,221.12 135.2,221.24 135.7,221.33 136.2,221.39 136.7,221.46 137.2,221.53 137.7,221.63 138.2,221.77 138.7,222.01 139.2,222.36 139.7,222.76 140.2,223.20 140.7,223.65 141.2,224.06 141.7,224.47 142.2,224.89 142.7,225.33 143.2,225.81 143.7,226.35 144.2,226.95 144.7,227.64 145.2,228.44 145.7,229.37 146.2,230.47 146.7,231.87 147.2,233.54 147.7,235.41 148.2,237.48 148.7,240.01 149.2,242.27 149.7,244.34 150.2,247.60 150.7,253.41 151.2,260.00 151.7,266.52 152.2,273.35 152.7,280.00 153.2,286.68 153.7,292.99 154.2,297.68 154.7,301.06 155.2,303.02 155.7,304.16 156.2,303.61 156.7,301.88 157.2,299.47 157.7,296.00 158.2,291.77 158.7,286.70 159.2,281.14 159.7,274.96 160.2,267.95 160.7,261.22 161.2,255.37 161.7,249.94 162.2,245.00 162.7,240.28 163.2,236.20 163.7,233.49 164.2,231.19 164.7,229.22 165.2,227.61 165.7,226.40 166.2,225.63 166.7,225.06 167.2,224.59 167.7,224.20 168.2,223.86 168.7,223.54 169.2,223.21 169.7,222.85 170.2,222.42 170.7,221.91 171.2,221.36 171.7,220.82 172.2,220.34 172.7,219.96 173.2,219.72 173.7,219.52 174.2,219.35 174.7,219.21 175.2,219.08 175.7,218.96 176.2,218.86 176.7,218.76 177.2,218.76 177.7,218.87 178.2,218.90 178.7,218.82 179.2,218.63 179.7,218.34 180.2,218.03 180.7,217.74 181.2,217.54 181.7,217.46 182.2,217.50 182.7,217.63 183.2,217.81 183.7,217.98 184.2,218.07 184.7,218.05 185.2,217.93 185.7,217.71 186.2,217.47 186.7,217.24 187.2,217.10 187.7,217.07 188.2,217.16 188.7,217.35 189.2,217.57 189.7,217.76 190.2,217.88 190.7,217.88 191.2,217.77 191.7,217.56 192.2,217.32 192.7,217.11 193.2,216.98 193.7,216.96 194.2,217.07 194.7,217.26 195.2,217.49 195.7,217.71 196.2,217.86 196.7,217.90 197.2,217.82 197.7,217.67 198.2,217.48 198.7,217.33 199.2,217.26 199.7,217.31 200.2,217.48 200.7,217.74 201.2,218.04 201.6,218.26" fill="none" stroke="#ee1111" stroke-width="1.75" stroke-linejoin="round" stroke-linecap="round"/>
<polyline points="300.0,81.90 300.5,81.91 301.0,81.93 301.5,81.94 302.0,81.95 302.5,81.96 303.0,81.98 303.5,81.99 304.0,82.00 304.5,82.02 305.0,82.03 305.5,82.05 306.0,82.06 306.5,82.07 307.0,82.09 307.5,82.10 308.0,82.12 308.5,82.13 309.0,82.15 309.5,82.16 310.0,82.18 310.5,82.19 311.0,82.21 311.5,82.22 312.0,82.24 312.5,82.25 313.0,82.27 313.5,82.29 314.0,82.30 314.5,82.32 315.0,82.33 315.5,82.35 316.0,82.37 316.5,82.38 317.0,82.40 317.5,82.42 318.0,82.43 318.5,82.45 319.0,82.47 319.5,82.48 320.0,82.50 320.5,82.52 321.0,82.53 321.5,82.55 322.0,82.57 322.5,82.59 323.0,82.61 323.5,82.62 324.0,82.64 324.5,82.66 325.0,82.68 325.5,82.70 326.0,82.72 326.5,82.74 327.0,82.76 327.5,82.78 328.0,82.80 328.5,82.82 329.0,82.84 329.5,82.86 330.0,82.88 330.5,82.90 331.0,82.92 331.5,82.94 332.0,82.96 332.5,82.98 333.0,83.00 333.5,83.02 334.0,83.04 334.5,83.06 335.0,83.08 335.5,83.10 336.0,83.13 336.5,83.15 337.0,83.17 337.5,83.19 338.0,83.21 338.5,83.23 339.0,83.26 339.5,83.28 340.0,83.30 340.5,83.32 341.0,83.34 341.5,83.37 342.0,83.39 342.5,83.41 343.0,83.43 343.5,83.45 344.0,83.47 344.5,83.49 345.0,83.52 345.5,83.54 346.0,83.56 346.5,83.58 347.0,83.60 347.5,83.62 348.0,83.64 348.5,83.67 349.0,83.69 349.5,83.71 350.0,83.73 350.5,83.75 351.0,83.77 351.5,83.80 352.0,83.82 352.5,83.84 353.0,83.86 353.5,83.89 354.0,83.91 354.5,83.93 355.0,83.96 355.5,83.98 356.0,84.00 356.5,84.03 357.0,84.05 357.5,84.07 358.0,84.10 358.5,84.12 359.0,84.15 359.5,84.17 360.0,84.20 360.5,84.23 361.0,84.25 361.5,84.28 362.0,84.31 362.5,84.33 363.0,84.36 363.5,84.39 364.0,84.42 364.5,84.45 365.0,84.48 365.5,84.51 366.0,84.54 366.5,84.57 367.0,84.60 367.5,84.63 368.0,84.67 368.5,84.70 369.0,84.73 369.5,84.77 370.0,84.80 370.5,84.84 371.0,84.87 371.5,84.91 372.0,84.95 372.5,84.99 373.0,85.03 373.5,85.07 374.0,85.11 374.5,85.16 375.0,85.20 375.5,85.25 376.0,85.29 376.5,85.34 377.0,85.39 377.5,85.44 378.0,85.49 378.5,85.54 379.0,85.59 379.5,85.64 380.0,85.70 380.5,85.75 381.0,85.80 381.5,85.86 382.0,85.92 382.5,85.97 383.0,86.03 383.5,86.09 384.0,86.15 384.5,86.20 385.0,86.26 385.5,86.32 386.0,86.39 386.5,86.45 387.0,86.51 387.5,86.57 388.0,86.63 388.5,86.69 389.0,86.76 389.5,86.82 390.0,86.89 390.5,86.95 391.0,87.01 391.5,87.08 392.0,87.14 392.5,87.21 393.0,87.27 393.5,87.34 394.0,87.41 394.5,87.47 395.0,87.54 395.5,87.60 396.0,87.67 396.5,87.74 397.0,87.80 397.5,87.87 398.0,87.94 398.5,88.00 399.0,88.07 399.5,88.13 400.0,88.20 400.5,88.27 401.0,88.33 401.5,88.40 402.0,88.47 402.5,88.54 403.0,88.61 403.5,88.68 404.0,88.75 404.5,88.83 405.0,88.90 405.5,88.98 406.0,89.05 406.5,89.13 407.0,89.21 407.5,89.29 408.0,89.37 408.5,89.45 409.0,89.53 409.5,89.61 410.0,89.70 410.5,89.79 411.0,89.87 411.5,89.96 412.0,90.05 412.5,90.13 413.0,90.22 413.5,90.31 414.0,90.40 414.5,90.50 415.0,90.59 415.5,90.69 416.0,90.79 416.5,90.89 417.0,91.00 417.5,91.11 418.0,91.22 418.5,91.33 419.0,91.45 419.5,91.57 420.0,91.70 420.5,91.83 421.0,91.97 421.5,92.11 422.0,92.25 422.5,92.40 423.0,92.56 423.5,92.72 424.0,92.89 424.5,93.06 425.0,93.24 425.5,93.42 426.0,93.61 426.5,93.80 427.0,94.00 427.5,94.20 428.0,94.41 428.5,94.62 429.0,94.84 429.5,95.07 430.0,95.30 430.5,95.54 431.0,95.80 431.5,96.07 432.0,96.36 432.5,96.65 433.0,96.96 433.5,97.28 434.0,97.61 434.5,97.95 435.0,98.30 435.5,98.65 436.0,99.01 436.5,99.38 437.0,99.75 437.5,100.12 438.0,100.50 438.5,100.88 439.0,101.28 439.5,101.69 440.0,102.12 440.5,102.56 441.0,103.02 441.5,103.50 442.0,104.00 442.5,104.52 443.0,105.07 443.5,105.64 444.0,106.25 444.5,106.90 445.0,107.60 445.5,108.33 446.0,109.09 446.5,109.91 447.0,110.82 447.5,111.84 448.0,113.00 448.5,114.49 449.0,116.37 449.5,118.51 450.0,120.76 450.5,122.97 451.0,125.00 451.5,126.86 452.0,128.66 452.5,130.44 453.0,132.21 453.5,134.00 454.0,135.74 454.5,137.44 455.0,139.20 455.5,141.14 456.0,143.39 456.5,145.98 457.0,148.83 457.5,151.86 458.0,155.00 458.5,158.20 459.0,161.55 459.5,165.16 460.0,169.15 460.5,173.77 461.0,179.20 461.5,185.10 462.0,191.10 462.5,196.83 463.0,202.02 463.5,207.00 464.0,211.85 464.5,216.51 465.0,220.91 465.5,225.00 466.0,228.83 466.5,232.46 467.0,235.83 467.5,238.88 468.0,241.76 468.5,244.74 469.0,246.69 469.5,246.48 470.0,244.36 470.5,241.28 471.0,237.85 471.5,233.21 472.0,227.52 472.5,220.45 473.0,211.01 473.5,201.63 474.0,194.03 474.5,187.17 475.0,180.65 475.5,174.09 476.0,167.13 476.5,159.48 477.0,151.75 477.5,144.68 478.0,139.00 478.5,134.71 479.0,130.82 479.5,126.53 480.0,122.23 480.5,118.67 481.0,115.54 481.5,112.77 482.0,110.41 482.5,108.46 483.0,106.74 483.5,105.25 484.0,104.00 484.5,102.93 485.0,101.97 485.5,101.12 486.0,100.35 486.5,99.64 487.0,98.97 487.5,98.32 488.0,97.71 488.5,97.14 489.0,96.62 489.5,96.17 490.0,95.80 490.5,95.48 491.0,95.19 491.5,94.91 492.0,94.66 492.5,94.43 493.0,94.22 493.5,94.02 494.0,93.83 494.5,93.66 495.0,93.50 495.5,93.54 496.0,93.55 496.5,93.51 497.0,93.41 497.5,93.24 498.0,93.01 498.5,92.74 499.0,92.45 499.5,92.17 500.0,91.95 500.5,91.78 501.0,91.69 501.5,91.67 502.0,91.73 502.5,91.84 503.0,91.98 503.5,92.12 504.0,92.24 504.5,92.31 505.0,92.31 505.5,92.23 506.0,92.09 506.5,91.90 507.0,91.68 507.5,91.46 508.0,91.28 508.5,91.16 509.0,91.11 509.5,91.14 510.0,91.25 510.5,91.41 511.0,91.60 511.5,91.80 512.0,91.97 512.5,92.09 513.0,92.14 513.5,92.12 514.0,92.03 514.5,91.88 515.0,91.71 515.5,91.54 516.0,91.40 516.5,91.32 517.0,91.31 517.5,91.38 518.0,91.51 518.5,91.71 519.0,91.93 519.5,92.16 520.0,92.35 520.5,92.50 521.0,92.60 521.5,92.63 522.0,92.60 522.5,92.53 523.0,92.43 523.5,92.35 524.0,92.30 524.5,92.31 525.0,92.40 525.5,92.58 526.0,92.86 526.5,93.22 527.0,93.62 527.5,94.04 528.0,94.45 528.5,94.81 529.0,95.10 529.5,95.31 530.0,95.10 530.5,95.35 531.0,95.60 531.5,95.86 532.0,96.13 532.5,96.40 533.0,96.69 533.5,96.98 534.0,97.27 534.5,97.58 535.0,97.90 535.5,98.23 536.0,98.58 536.5,98.94 537.0,99.31 537.5,99.69 538.0,100.08 538.5,100.48 539.0,100.89 539.5,101.29 540.0,101.70 540.5,102.11 541.0,102.53 541.5,102.96 542.0,103.40 542.5,103.84 543.0,104.29 543.5,104.74 544.0,105.19 544.5,105.65 545.0,106.10 545.5,106.55 546.0,106.99 546.5,107.44 547.0,107.90 547.5,108.38 548.0,108.90 548.5,109.41 549.0,109.91 549.5,110.43 550.0,111.04 550.5,111.78 551.0,112.70 551.5,114.24 552.0,116.58 552.5,119.38 553.0,122.30 553.5,125.00 554.0,127.52 554.5,130.08 555.0,132.59 555.5,135.00 556.0,137.11 556.5,138.99 557.0,140.94 557.5,143.28 558.0,146.40 558.5,151.10 559.0,156.90 559.5,163.08 560.0,168.93 560.5,174.16 561.0,179.31 561.5,184.37 562.0,189.34 562.5,194.17 563.0,198.84 563.5,203.27 564.0,207.59 564.5,212.00 565.0,217.73 565.5,221.20 566.0,217.67 566.5,212.00 567.0,208.00 567.5,204.28 568.0,200.44 568.5,196.07 569.0,191.04 569.5,185.53 570.0,179.69 570.5,173.65 571.0,167.50 571.5,160.84 572.0,153.98 572.5,147.42 573.0,141.55 573.5,136.10 574.0,130.99 574.5,125.95 575.0,121.36 575.5,118.35 576.0,116.01 576.5,114.04 577.0,112.31 577.5,110.67 578.0,108.98 578.5,107.26 579.0,105.59 579.5,104.01 580.0,102.59 580.5,101.40 581.0,100.50 581.5,99.80 582.0,99.18 582.5,98.64 583.0,98.17 583.5,97.79 584.0,97.50 584.5,97.26 585.0,97.05 585.5,96.89 586.0,96.80 586.5,96.75 587.0,96.71 587.5,96.67 588.0,96.63 588.5,96.60 589.0,96.58 589.5,96.55 590.0,96.53 590.5,96.52 591.0,96.51 591.5,96.50 592.0,96.50 592.5,96.51 593.0,96.54 593.5,96.59 594.0,96.65 594.5,96.72 595.0,96.80 595.5,96.92 596.0,97.12 596.5,97.38 597.0,97.69 597.5,98.03 598.0,98.40" fill="none" stroke="#f01ef0" stroke-width="2.50" stroke-linejoin="round" stroke-linecap="round"/>
<polyline points="300.0,82.30 300.5,82.32 301.0,82.35 301.5,82.37 302.0,82.40 302.5,82.43 303.0,82.45 303.5,82.48 304.0,82.51 304.5,82.53 305.0,82.56 305.5,82.59 306.0,82.62 306.5,82.65 307.0,82.68 307.5,82.71 308.0,82.74 308.5,82.77 309.0,82.81 309.5,82.84 310.0,82.87 310.5,82.90 311.0,82.94 311.5,82.97 312.0,83.01 312.5,83.04 313.0,83.08 313.5,83.11 314.0,83.15 314.5,83.18 315.0,83.22 315.5,83.26 316.0,83.29 316.5,83.33 317.0,83.37 317.5,83.41 318.0,83.44 318.5,83.48 319.0,83.52 319.5,83.56 320.0,83.60 320.5,83.64 321.0,83.68 321.5,83.72 322.0,83.76 322.5,83.80 323.0,83.84 323.5,83.88 324.0,83.93 324.5,83.97 325.0,84.01 325.5,84.05 326.0,84.10 326.5,84.14 327.0,84.19 327.5,84.23 328.0,84.28 328.5,84.32 329.0,84.37 329.5,84.42 330.0,84.47 330.5,84.52 331.0,84.57 331.5,84.62 332.0,84.67 332.5,84.72 333.0,84.77 333.5,84.82 334.0,84.88 334.5,84.93 335.0,84.99 335.5,85.05 336.0,85.10 336.5,85.16 337.0,85.22 337.5,85.28 338.0,85.34 338.5,85.41 339.0,85.47 339.5,85.53 340.0,85.60 340.5,85.67 341.0,85.74 341.5,85.81 342.0,85.88 342.5,85.96 343.0,86.03 343.5,86.11 344.0,86.19 344.5,86.28 345.0,86.36 345.5,86.45 346.0,86.54 346.5,86.62 347.0,86.72 347.5,86.81 348.0,86.90 348.5,87.00 349.0,87.10 349.5,87.19 350.0,87.29 350.5,87.39 351.0,87.50 351.5,87.60 352.0,87.70 352.5,87.81 353.0,87.92 353.5,88.03 354.0,88.13 354.5,88.24 355.0,88.35 355.5,88.47 356.0,88.58 356.5,88.69 357.0,88.80 357.5,88.92 358.0,89.03 358.5,89.15 359.0,89.27 359.5,89.38 360.0,89.50 360.5,89.62 361.0,89.73 361.5,89.85 362.0,89.97 362.5,90.08 363.0,90.20 363.5,90.32 364.0,90.43 364.5,90.55 365.0,90.67 365.5,90.79 366.0,90.91 366.5,91.03 367.0,91.15 367.5,91.28 368.0,91.41 368.5,91.53 369.0,91.66 369.5,91.80 370.0,91.93 370.5,92.07 371.0,92.21 371.5,92.36 372.0,92.50 372.5,92.65 373.0,92.81 373.5,92.96 374.0,93.12 374.5,93.29 375.0,93.46 375.5,93.63 376.0,93.81 376.5,93.99 377.0,94.17 377.5,94.37 378.0,94.56 378.5,94.76 379.0,94.97 379.5,95.18 380.0,95.40 380.5,95.64 381.0,95.91 381.5,96.21 382.0,96.53 382.5,96.87 383.0,97.23 383.5,97.59 384.0,97.96 384.5,98.33 385.0,98.70 385.5,99.06 386.0,99.43 386.5,99.81 387.0,100.19 387.5,100.58 388.0,100.98 388.5,101.39 389.0,101.82 389.5,102.25 390.0,102.70 390.5,103.17 391.0,103.65 391.5,104.16 392.0,104.68 392.5,105.22 393.0,105.76 393.5,106.32 394.0,106.87 394.5,107.44 395.0,108.00 395.5,108.56 396.0,109.11 396.5,109.66 397.0,110.22 397.5,110.79 398.0,111.38 398.5,111.98 399.0,112.62 399.5,113.29 400.0,114.00 400.5,114.75 401.0,115.54 401.5,116.37 402.0,117.24 402.5,118.15 403.0,119.09 403.5,120.07 404.0,121.08 404.5,122.13 405.0,123.21 405.5,124.32 406.0,125.46 406.5,126.66 407.0,127.93 407.5,129.26 408.0,130.67 408.5,132.15 409.0,133.70 409.5,135.34 410.0,137.12 410.5,139.07 411.0,141.13 411.5,143.26 412.0,145.44 412.5,147.70 413.0,150.07 413.5,152.51 414.0,155.00 414.5,157.44 415.0,159.91 415.5,162.58 416.0,165.67 416.5,169.55 417.0,174.06 417.5,178.82 418.0,183.43 418.5,187.50 419.0,190.89 419.5,193.83 420.0,196.48 420.5,199.02 421.0,201.61 421.5,204.43 422.0,207.65 422.5,211.44 423.0,216.05 423.5,223.43 424.0,232.33 424.5,240.00 425.0,245.78 425.5,250.91 426.0,255.49 426.5,259.57 427.0,263.09 427.5,266.25 428.0,269.20 428.5,271.19 429.0,272.70 429.5,273.17 430.0,272.17 430.5,270.50 431.0,268.17 431.5,265.00 432.0,260.97 432.5,255.68 433.0,248.67 433.5,241.34 434.0,234.84 434.5,228.58 435.0,222.49 435.5,216.53 436.0,210.63 436.5,204.61 437.0,198.63 437.5,192.93 438.0,187.75 438.5,183.34 439.0,179.68 439.5,176.39 440.0,173.03 440.5,169.16 441.0,164.46 441.5,159.32 442.0,154.31 442.5,150.00 443.0,146.36 443.5,142.97 444.0,139.81 444.5,136.86 445.0,134.09 445.5,131.49 446.0,129.04 446.5,126.71 447.0,124.51 447.5,122.42 448.0,120.43 448.5,118.53 449.0,116.73 449.5,115.00 450.0,113.33 450.5,111.73 451.0,110.20 451.5,108.77 452.0,107.46 452.5,106.27 453.0,105.16 453.5,104.11 454.0,103.12 454.5,102.20 455.0,101.36 455.5,100.61 456.0,99.94 456.5,99.34 457.0,98.78 457.5,98.26 458.0,97.79 458.5,97.35 459.0,96.95 459.5,96.58 460.0,96.24 460.5,95.91 461.0,95.61 461.5,95.32 462.0,95.06 462.5,94.82 463.0,94.60 463.5,94.40 464.0,94.21 464.5,94.03 465.0,93.86 465.5,93.70 466.0,93.56 466.5,93.42 467.0,93.30 467.5,93.18 468.0,93.06 468.5,92.93 469.0,92.81 469.5,92.70 470.0,92.60 470.5,92.52 471.0,92.46 471.5,92.41 472.0,92.40 472.5,92.42 473.0,92.47 473.5,92.55 474.0,92.65 474.5,92.76 475.0,92.88 475.5,93.00 476.0,93.11 476.5,93.20 477.0,93.28 477.5,93.35 478.0,93.41 478.5,93.47 479.0,93.54 479.5,93.61 480.0,93.69 480.5,93.79 481.0,93.90 481.5,94.05 482.0,94.24 482.5,94.47 483.0,94.74 483.5,95.03 484.0,95.34 484.5,95.67 485.0,96.00 485.5,96.36 486.0,96.78 486.5,97.23 487.0,97.71 487.5,98.20 488.0,98.70 488.5,99.20 489.0,99.73 489.5,100.27 490.0,100.83 490.5,101.41 491.0,102.00 491.5,102.56 492.0,103.08 492.5,103.62 493.0,104.24 493.5,105.02 494.0,106.00 494.5,107.95 495.0,111.10 495.5,114.71 496.0,118.03 496.5,120.37 497.0,121.95 497.5,123.24 498.0,124.44 498.5,125.74 499.0,127.35 499.5,129.31 500.0,131.52 500.5,133.91 501.0,136.42 501.5,138.98 502.0,141.52 502.5,144.10 503.0,146.87 503.5,150.00 504.0,153.73 504.5,158.04 505.0,162.65 505.5,167.30 506.0,171.75 506.5,176.05 507.0,180.33 507.5,184.68 508.0,189.20 508.5,194.00 509.0,199.17 509.5,204.72 510.0,210.54 510.5,216.53 511.0,222.58 511.5,229.02 512.0,236.06 512.5,240.63 513.0,243.52 513.5,245.43 514.0,245.63 514.5,243.97 515.0,241.22 515.5,237.52 516.0,231.49 516.5,225.00 517.0,218.81 517.5,212.35 518.0,205.88 518.5,199.65 519.0,193.90 519.5,188.74 520.0,183.94 520.5,179.21 521.0,174.28 521.5,168.85 522.0,162.44 522.5,155.78 523.0,150.00 523.5,145.35 524.0,141.38 524.5,138.09 525.0,135.19 525.5,132.58 526.0,130.20 526.5,128.00 527.0,126.01 527.5,124.24 528.0,122.59 528.5,120.93 529.0,119.16 529.5,117.17 530.0,114.91 530.5,112.53 531.0,110.17 531.5,108.00 532.0,105.91 532.5,103.81 533.0,101.91 533.5,100.43 534.0,99.47 534.5,98.69 535.0,98.04 535.5,97.45 536.0,96.91 536.5,96.42 537.0,95.94 537.5,95.47 538.0,95.03 538.5,94.61 539.0,94.23 539.5,93.87 540.0,93.52 540.5,93.19 541.0,92.87 541.5,92.56 542.0,92.22 542.5,91.86 543.0,91.47 543.5,91.07 544.0,90.66 544.5,90.27 545.0,89.92 545.5,89.66 546.0,89.47 546.5,89.36 547.0,89.32 547.5,89.35 548.0,89.43 548.5,89.55 549.0,89.68 549.5,89.82 550.0,89.94 550.5,90.04 551.0,90.09 551.5,90.09 552.0,90.04 552.5,89.93 553.0,89.78 553.5,89.58 554.0,89.35 554.5,89.11 555.0,88.87 555.5,88.65 556.0,88.46 556.5,88.32 557.0,88.23 557.5,88.20 558.0,88.22 558.5,88.30 559.0,88.42 559.5,88.58 560.0,88.76 560.5,88.94 561.0,89.10 561.5,89.23 562.0,89.33 562.5,89.37 563.0,89.35 563.5,89.27 564.0,89.14 564.5,88.96 565.0,88.75 565.5,88.51 566.0,88.27 566.5,88.04 567.0,87.84 567.5,87.67 568.0,87.56 568.5,87.51 569.0,87.51 569.5,87.58 570.0,87.70 570.5,87.86 571.0,88.04 571.5,88.24 572.0,88.43 572.5,88.59 573.0,88.72 573.5,88.81 574.0,88.84 574.5,88.81 575.0,88.72 575.5,88.58 576.0,88.40 576.5,88.20 577.0,87.98 577.5,87.77 578.0,87.58 578.5,87.42 579.0,87.31 579.5,87.26 580.0,87.26 580.5,87.32 581.0,87.44 581.5,87.60 582.0,87.79 582.5,88.00 583.0,88.21 583.5,88.40 584.0,88.56 584.5,88.68 585.0,88.74 585.5,88.75 586.0,88.69 586.5,88.59 587.0,88.43 587.5,88.25 588.0,88.04 588.5,87.83 589.0,87.64 589.5,87.47 590.0,87.34 590.5,87.27 591.0,87.27 591.5,87.33 592.0,87.46 592.5,87.65 593.0,87.87 593.5,88.13 594.0,88.40 594.5,88.66 595.0,88.90 595.5,89.13 596.0,89.36 596.5,89.57 597.0,89.76 597.5,89.90 598.0,90.00" fill="none" stroke="#ee1111" stroke-width="2.90" stroke-linejoin="round" stroke-linecap="round"/>
<polyline points="300.0,82.80 300.5,82.99 301.0,83.16 301.5,83.26 302.0,83.30 302.5,83.26 303.0,83.16 303.5,83.02 304.0,82.88 304.5,82.76 305.0,82.70 305.5,82.71 306.0,82.79 306.5,82.94 307.0,83.13 307.5,83.34 308.0,83.52 308.5,83.66 309.0,83.73 309.5,83.73 310.0,83.66 310.5,83.54 311.0,83.40 311.5,83.28 312.0,83.20 312.5,83.18 313.0,83.24 313.5,83.37 314.0,83.56 314.5,83.77 315.0,83.97 315.5,84.14 316.0,84.25 316.5,84.28 317.0,84.25 317.5,84.15 318.0,84.02 318.5,83.90 319.0,83.81 319.5,83.77 320.0,83.81 320.5,83.92 321.0,84.09 321.5,84.30 322.0,84.52 322.5,84.71 323.0,84.86 323.5,84.93 324.0,84.93 324.5,84.86 325.0,84.75 325.5,84.63 326.0,84.53 326.5,84.47 327.0,84.49 327.5,84.58 328.0,84.73 328.5,84.94 329.0,85.16 329.5,85.38 330.0,85.55 330.5,85.65 331.0,85.68 331.5,85.64 332.0,85.54 332.5,85.42 333.0,85.30 333.5,85.23 334.0,85.21 334.5,85.27 335.0,85.40 335.5,85.59 336.0,85.82 336.5,86.04 337.0,86.23 337.5,86.37 338.0,86.44 338.5,86.43 339.0,86.37 339.5,86.27 340.0,86.16 340.5,86.09 341.0,86.07 341.5,86.12 342.0,86.25 342.5,86.45 343.0,86.70 343.5,86.96 344.0,87.20 344.5,87.40 345.0,87.53 345.5,87.58 346.0,87.57 346.5,87.52 347.0,87.45 347.5,87.39 348.0,87.37 348.5,87.42 349.0,87.55 349.5,87.75 350.0,88.00 350.5,88.28 351.0,88.55 351.5,88.78 352.0,88.96 352.5,89.06 353.0,89.08 353.5,89.05 354.0,88.99 354.5,88.93 355.0,88.89 355.5,88.92 356.0,89.02 356.5,89.20 357.0,89.42 357.5,89.69 358.0,89.95 358.5,90.18 359.0,90.37 359.5,90.49 360.0,90.54 360.5,90.54 361.0,90.51 361.5,90.47 362.0,90.45 362.5,90.48 363.0,90.56 363.5,90.71 364.0,90.91 364.5,91.14 365.0,91.39 365.5,91.62 366.0,91.82 366.5,91.98 367.0,92.08 367.5,92.14 368.0,92.16 368.5,92.17 369.0,92.20 369.5,92.25 370.0,92.35 370.5,92.50 371.0,92.69 371.5,92.92 372.0,93.16 372.5,93.39 373.0,93.61 373.5,93.80 374.0,93.95 374.5,94.06 375.0,94.16 375.5,94.24 376.0,94.32 376.5,94.43 377.0,94.58 377.5,94.76 378.0,94.98 378.5,95.24 379.0,95.52 379.5,95.81 380.0,96.10 380.5,96.38 381.0,96.68 381.5,96.97 382.0,97.26 382.5,97.56 383.0,97.87 383.5,98.20 384.0,98.55 384.5,98.92 385.0,99.31 385.5,99.71 386.0,100.12 386.5,100.54 387.0,100.97 387.5,101.39 388.0,101.81 388.5,102.22 389.0,102.64 389.5,103.06 390.0,103.50 390.5,103.96 391.0,104.46 391.5,104.98 392.0,105.52 392.5,106.09 393.0,106.67 393.5,107.25 394.0,107.84 394.5,108.42 395.0,109.00 395.5,109.58 396.0,110.15 396.5,110.73 397.0,111.31 397.5,111.90 398.0,112.51 398.5,113.14 399.0,113.79 399.5,114.48 400.0,115.20 400.5,115.96 401.0,116.74 401.5,117.56 402.0,118.41 402.5,119.30 403.0,120.22 403.5,121.19 404.0,122.19 404.5,123.24 405.0,124.32 405.5,125.46 406.0,126.68 406.5,127.97 407.0,129.35 407.5,130.82 408.0,132.36 408.5,133.99 409.0,135.70 409.5,137.60 410.0,139.66 410.5,141.84 411.0,144.09 411.5,146.39 412.0,148.79 412.5,151.31 413.0,153.92 413.5,156.60 414.0,159.30 414.5,162.26 415.0,165.77 415.5,170.30 416.0,175.61 416.5,181.19 417.0,186.51 417.5,191.28 418.0,195.79 418.5,200.18 419.0,204.59 419.5,209.15 420.0,213.99 420.5,219.43 421.0,225.57 421.5,231.75 422.0,237.28 422.5,241.57 423.0,244.93 423.5,247.55 424.0,249.85 424.5,250.55 425.0,249.12 425.5,246.55 426.0,243.03 426.5,237.49 427.0,229.15 427.5,219.91 428.0,212.08 428.5,205.02 429.0,198.37 429.5,192.14 430.0,186.38 430.5,181.01 431.0,175.96 431.5,171.21 432.0,166.72 432.5,162.58 433.0,158.87 433.5,155.00 434.0,150.43 434.5,145.83 435.0,141.89 435.5,138.29 436.0,135.00 436.5,131.89 437.0,128.95 437.5,126.34 438.0,124.18 438.5,122.25 439.0,120.68 439.5,119.63 440.0,118.73 440.5,117.93 441.0,117.30 441.5,116.91 442.0,116.80 442.5,116.90 443.0,117.11 443.5,117.42 444.0,117.79 444.5,118.20 445.0,118.75 445.5,119.53 446.0,120.50 446.5,121.64 447.0,122.91 447.5,124.29 448.0,126.03 448.5,128.17 449.0,130.55 449.5,133.04 450.0,135.49 450.5,138.01 451.0,140.66 451.5,143.37 452.0,146.09 452.5,148.85 453.0,151.65 453.5,154.44 454.0,157.25 454.5,160.10 455.0,162.89 455.5,165.50 456.0,167.88 456.5,170.11 457.0,172.30 457.5,174.55 458.0,176.96 458.5,179.60 459.0,182.34 459.5,185.19 460.0,188.18 460.5,191.37 461.0,194.78 461.5,198.45 462.0,202.49 462.5,207.13 463.0,212.24 463.5,217.67 464.0,223.28 464.5,228.89 465.0,234.82 465.5,241.30 466.0,247.21 466.5,251.53 467.0,254.87 467.5,257.54 468.0,259.89 468.5,262.10 469.0,263.46 469.5,263.29 470.0,261.70 470.5,259.41 471.0,257.07 471.5,254.36 472.0,250.83 472.5,245.30 473.0,237.42 473.5,230.00 474.0,224.00 474.5,218.37 475.0,213.05 475.5,207.94 476.0,202.96 476.5,198.05 477.0,193.38 477.5,188.90 478.0,184.52 478.5,180.13 479.0,175.65 479.5,170.97 480.0,165.89 480.5,160.35 481.0,154.76 481.5,149.51 482.0,145.00 482.5,141.21 483.0,137.79 483.5,134.65 484.0,131.71 484.5,128.88 485.0,126.14 485.5,123.56 486.0,121.24 486.5,119.23 487.0,117.37 487.5,115.67 488.0,114.20 488.5,113.00 489.0,112.00 489.5,111.11 490.0,110.32 490.5,109.68 491.0,109.20 491.5,108.81 492.0,108.44 492.5,108.10 493.0,107.82 493.5,107.60 494.0,107.45 494.5,107.40 495.0,107.43 495.5,107.52 496.0,107.65 496.5,107.82 497.0,108.03 497.5,108.25 498.0,108.50 498.5,108.83 499.0,109.31 499.5,109.90 500.0,110.56 500.5,111.28 501.0,112.00 501.5,112.75 502.0,113.55 502.5,114.40 503.0,115.33 503.5,116.32 504.0,117.38 504.5,118.52 505.0,119.74 505.5,121.13 506.0,122.79 506.5,124.63 507.0,126.56 507.5,128.50 508.0,130.36 508.5,132.15 509.0,133.92 509.5,135.72 510.0,137.59 510.5,139.58 511.0,141.63 511.5,143.68 512.0,145.96 512.5,148.71 513.0,152.47 513.5,158.02 514.0,164.29 514.5,170.00 515.0,174.83 515.5,179.35 516.0,183.71 516.5,188.02 517.0,192.41 517.5,197.00 518.0,201.82 518.5,206.78 519.0,211.83 519.5,216.92 520.0,221.99 520.5,227.06 521.0,232.46 521.5,237.50 522.0,241.40 522.5,244.42 523.0,247.11 523.5,249.90 524.0,250.83 524.5,248.88 525.0,246.00 525.5,243.36 526.0,240.00 526.5,234.44 527.0,227.54 527.5,221.47 528.0,215.76 528.5,210.19 529.0,204.67 529.5,199.12 530.0,193.50 530.5,187.86 531.0,182.23 531.5,176.63 532.0,171.10 532.5,165.55 533.0,159.88 533.5,154.24 534.0,148.79 534.5,143.71 535.0,139.12 535.5,134.79 536.0,131.12 536.5,128.60 537.0,126.60 537.5,124.91 538.0,123.42 538.5,122.00 539.0,120.57 539.5,119.16 540.0,117.88 540.5,116.80 541.0,116.00 541.5,115.38 542.0,114.79 542.5,114.26 543.0,113.81 543.5,113.46 544.0,113.25 544.5,113.20 545.0,113.30 545.5,113.52 546.0,113.84 546.5,114.23 547.0,114.69 547.5,115.19 548.0,115.73 548.5,116.50 549.0,117.49 549.5,118.62 550.0,119.81 550.5,121.00 551.0,122.17 551.5,123.40 552.0,124.77 552.5,126.33 553.0,128.03 553.5,129.90 554.0,131.97 554.5,134.31 555.0,136.96 555.5,140.00 556.0,144.06 556.5,149.41 557.0,155.51 557.5,161.82 558.0,167.81 558.5,173.10 559.0,178.04 559.5,182.85 560.0,187.68 560.5,192.67 561.0,198.00 561.5,203.80 562.0,209.96 562.5,216.25 563.0,222.54 563.5,228.86 564.0,234.34 564.5,238.01 565.0,240.65 565.5,240.91 566.0,238.46 566.5,235.43 567.0,232.25 567.5,228.24 568.0,223.05 568.5,218.13 569.0,213.61 569.5,209.26 570.0,204.96 570.5,200.57 571.0,196.00 571.5,191.25 572.0,186.39 572.5,181.42 573.0,176.32 573.5,171.07 574.0,165.47 574.5,159.35 575.0,153.09 575.5,147.11 576.0,141.83 576.5,137.53 577.0,133.93 577.5,130.79 578.0,127.96 578.5,125.36 579.0,122.90 579.5,120.48 580.0,118.04 580.5,115.59 581.0,113.25 581.5,111.12 582.0,109.30 582.5,107.56 583.0,105.88 583.5,104.32 584.0,102.92 584.5,101.72 585.0,100.79 585.5,100.11 586.0,99.52 586.5,98.98 587.0,98.50 587.5,98.06 588.0,97.67 588.5,97.33 589.0,97.02 589.5,96.74 590.0,96.50 590.5,96.28 591.0,96.09 591.5,95.91 592.0,95.75 592.5,95.60 593.0,95.47 593.5,95.33 594.0,95.20 594.5,95.07 595.0,94.94 595.5,94.82 596.0,94.70 596.5,94.59 597.0,94.49 597.5,94.39 598.0,94.30" fill="none" stroke="#1414f0" stroke-width="2.90" stroke-linejoin="round" stroke-linecap="round"/>
<rect x="64.90" y="46.70" width="28.10" height="27.90" fill="#cdd9ed"/>
<rect x="77.40" y="51.80" width="3.70" height="5.90" fill="#975a85"/>
<rect x="77.40" y="63.20" width="3.70" height="5.80" fill="#975a85"/>
<rect x="82.00" y="119.30" width="27.90" height="27.40" fill="#cdd9ed"/>
<rect x="90.00" y="121.50" width="12.80" height="3.30" fill="#975a85"/>
<rect x="90.00" y="141.80" width="12.80" height="3.20" fill="#975a85"/>
<rect x="167.10" y="112.60" width="27.50" height="28.40" fill="#cdd9ed"/>
<rect x="174.40" y="114.90" width="13.10" height="3.40" fill="#975a85"/>
<rect x="179.20" y="118.30" width="3.70" height="5.20" fill="#975a85"/>
<rect x="179.20" y="129.70" width="3.70" height="5.80" fill="#975a85"/>
<rect x="174.40" y="135.50" width="13.10" height="3.20" fill="#975a85"/>
<rect x="52.00" y="233.10" width="28.10" height="27.70" fill="#cdd9ed"/>
<rect x="64.80" y="244.20" width="3.20" height="5.90" fill="#975a85"/>
<rect x="69.20" y="301.90" width="25.00" height="24.30" fill="#cdd9ed"/>
<rect x="72.70" y="311.60" width="18.50" height="4.90" fill="#975a85"/>
<rect x="168.50" y="261.10" width="27.90" height="28.00" fill="#cdd9ed"/>
<rect x="172.20" y="272.30" width="20.50" height="5.40" fill="#975a85"/>
<rect x="180.80" y="272.30" width="3.80" height="5.40" fill="#804070"/>
<rect x="337.00" y="121.20" width="63.00" height="62.80" fill="#cdd9ed"/>
<g fill="url(#hatch)">
<rect x="354.30" y="125.70" width="29.60" height="8.90" fill="url(#hatch)"/>
<rect x="365.00" y="134.60" width="8.20" height="36.40" fill="url(#hatch)"/>
<rect x="344.80" y="145.90" width="47.00" height="13.40" fill="url(#hatch)"/>
<rect x="354.30" y="171.00" width="29.60" height="8.20" fill="url(#hatch)"/>
<rect x="365.00" y="145.90" width="8.20" height="13.40" fill="#8c4a7b"/>
<path d="M365.5 146.5L372.7 158.7M372.7 146.5L365.5 158.7" stroke="#b27aa2" stroke-width="0.8"/>
</g>
<line x1="117.90" y1="36.30" x2="96.96" y2="52.55" stroke="#111" stroke-width="1.30"/>
<path d="M93.80 55.00L96.28 50.04L96.80 52.67L99.22 53.83Z" fill="#111"/>
<line x1="134.90" y1="127.90" x2="114.35" y2="133.63" stroke="#111" stroke-width="1.30"/>
<path d="M110.50 134.70L114.67 131.05L114.16 133.68L115.96 135.67Z" fill="#111"/>
<line x1="103.50" y1="218.30" x2="83.40" y2="243.47" stroke="#111" stroke-width="1.30"/>
<path d="M80.90 246.60L82.14 241.20L83.27 243.63L85.90 244.19Z" fill="#111"/>
<line x1="115.40" y1="323.80" x2="99.76" y2="321.57" stroke="#111" stroke-width="1.30"/>
<path d="M95.80 321.00L101.09 319.33L99.56 321.54L100.41 324.08Z" fill="#111"/>
<line x1="187.30" y1="105.20" x2="410.71" y2="95.68" stroke="#f01ef0" stroke-width="1.45"/>
<path d="M417.20 95.40L409.82 98.32L410.91 95.67L409.60 93.12Z" fill="#f01ef0"/>
<line x1="158.60" y1="296.50" x2="419.65" y2="263.06" stroke="#ee1111" stroke-width="1.45"/>
<path d="M425.60 262.30L418.99 265.77L419.85 263.04L418.33 260.61Z" fill="#ee1111"/>
<line x1="39.40" y1="3.90" x2="54.60" y2="3.90" stroke="#111" stroke-width="1.80" stroke-linecap="round"/>
<text x="61.40 65.47 69.54 77.68 81.75 85.82 89.89 93.96 98.03 102.10 106.17 114.31 118.38 122.45 126.52 134.66 138.73 142.80 146.87 150.94 155.01 159.08 163.15 167.22" y="6.90" text-anchor="middle" font-family="'Liberation Serif', serif" font-size="8.00" fill="#2a2a2a" font-weight="normal" stroke="#3a3a3a" stroke-width="0.22">Theverticaldualrectangle</text>
<line x1="39.40" y1="12.80" x2="54.60" y2="12.80" stroke="#1ee61e" stroke-width="1.80" stroke-linecap="round"/>
<text x="61.40 65.47 69.54 77.68 81.75 85.82 89.89 98.03 102.10 106.17 110.24 114.31 118.38 122.45 126.52 130.59" y="15.70" text-anchor="middle" font-family="'Liberation Serif', serif" font-size="8.00" fill="#2a2a2a" font-weight="normal" stroke="#3a3a3a" stroke-width="0.22">Thedualrectangle</text>
<line x1="148.90" y1="12.40" x2="164.40" y2="12.40" stroke="#f01ef0" stroke-width="1.80" stroke-linecap="round"/>
<text x="170.80 174.87 178.94 187.08 191.15 195.22" y="15.70" text-anchor="middle" font-family="'Liberation Serif', serif" font-size="8.00" fill="#2a2a2a" font-weight="normal" stroke="#3a3a3a" stroke-width="0.22">ThePIT</text>
<text x="198.40" y="17.40" text-anchor="middle" font-family="'Liberation Serif', serif" font-size="5.20" fill="#2a2a2a" font-weight="bold" >1</text>
<line x1="39.20" y1="186.20" x2="54.60" y2="186.20" stroke="#111" stroke-width="1.80" stroke-linecap="round"/>
<text x="61.20 65.27 69.34 77.48 81.55 85.62 89.69 93.76 97.83 101.90 105.97 114.11 118.18 122.25 126.32 130.39 134.46 142.60 146.67 150.74 154.81 158.88 162.95 167.02 171.09 175.16" y="189.20" text-anchor="middle" font-family="'Liberation Serif', serif" font-size="8.00" fill="#2a2a2a" font-weight="normal" stroke="#3a3a3a" stroke-width="0.22">Theverticalsinglerectangle</text>
<line x1="39.20" y1="194.90" x2="54.60" y2="194.90" stroke="#1ee61e" stroke-width="1.80" stroke-linecap="round"/>
<text x="61.20 65.27 69.34 77.48 81.55 85.62 89.69 97.83 101.90 105.97 110.04 114.11 118.18 122.25 126.32 130.39" y="198.00" text-anchor="middle" font-family="'Liberation Serif', serif" font-size="8.00" fill="#2a2a2a" font-weight="normal" stroke="#3a3a3a" stroke-width="0.22">Thedualrectangle</text>
<line x1="148.80" y1="195.30" x2="164.10" y2="195.30" stroke="#ee1111" stroke-width="1.80" stroke-linecap="round"/>
<text x="171.00 175.07 179.14 187.28 191.35 195.42" y="198.00" text-anchor="middle" font-family="'Liberation Serif', serif" font-size="8.00" fill="#2a2a2a" font-weight="normal" stroke="#3a3a3a" stroke-width="0.22">ThePIT</text>
<text x="198.90" y="199.90" text-anchor="middle" font-family="'Liberation Serif', serif" font-size="5.20" fill="#2a2a2a" font-weight="bold" >2</text>
<line x1="340.75" y1="28.40" x2="369.05" y2="28.40" stroke="#f01ef0" stroke-width="2.90" stroke-linecap="round"/>
<text transform="translate(377.79,33.20) scale(0.814,1)" font-family="'Liberation Serif', serif" font-weight="normal" font-style="normal" font-size="14.50" fill="#222" stroke="#222" stroke-width="0.25">T</text>
<text transform="translate(385.01,33.20) scale(0.983,1)" font-family="'Liberation Serif', serif" font-weight="normal" font-style="normal" font-size="14.50" fill="#222" stroke="#222" stroke-width="0.25">h</text>
<text transform="translate(392.45,33.20) scale(1.000,1)" font-family="'Liberation Serif', serif" font-weight="normal" font-style="normal" font-size="14.50" fill="#222" stroke="#222" stroke-width="0.25">e</text>
<text transform="translate(406.20,33.20) scale(0.962,1)" font-family="'Liberation Serif', serif" font-weight="normal" font-style="normal" font-size="14.50" fill="#222" stroke="#222" stroke-width="0.25">P</text>
<text transform="translate(414.21,33.20) scale(1.212,1)" font-family="'Liberation Serif', serif" font-weight="normal" font-style="normal" font-size="14.50" fill="#222" stroke="#222" stroke-width="0.25">I</text>
<text transform="translate(420.69,33.20) scale(0.814,1)" font-family="'Liberation Serif', serif" font-weight="normal" font-style="normal" font-size="14.50" fill="#222" stroke="#222" stroke-width="0.25">T</text>
<text x="431.90" y="37.10" text-anchor="middle" font-family="'Liberation Serif', serif" font-size="10.00" fill="#222" font-weight="normal" >1</text>
<line x1="464.35" y1="28.40" x2="493.35" y2="28.40" stroke="#ee1111" stroke-width="2.90" stroke-linecap="round"/>
<text transform="translate(501.59,33.20) scale(0.814,1)" font-family="'Liberation Serif', serif" font-weight="normal" font-style="normal" font-size="14.50" fill="#222" stroke="#222" stroke-width="0.25">T</text>
<text transform="translate(508.81,33.20) scale(0.983,1)" font-family="'Liberation Serif', serif" font-weight="normal" font-style="normal" font-size="14.50" fill="#222" stroke="#222" stroke-width="0.25">h</text>
<text transform="translate(516.25,33.20) scale(1.000,1)" font-family="'Liberation Serif', serif" font-weight="normal" font-style="normal" font-size="14.50" fill="#222" stroke="#222" stroke-width="0.25">e</text>
<text transform="translate(530.00,33.20) scale(0.962,1)" font-family="'Liberation Serif', serif" font-weight="normal" font-style="normal" font-size="14.50" fill="#222" stroke="#222" stroke-width="0.25">P</text>
<text transform="translate(538.01,33.20) scale(1.212,1)" font-family="'Liberation Serif', serif" font-weight="normal" font-style="normal" font-size="14.50" fill="#222" stroke="#222" stroke-width="0.25">I</text>
<text transform="translate(544.49,33.20) scale(0.814,1)" font-family="'Liberation Serif', serif" font-weight="normal" font-style="normal" font-size="14.50" fill="#222" stroke="#222" stroke-width="0.25">T</text>
<text x="555.60" y="37.10" text-anchor="middle" font-family="'Liberation Serif', serif" font-size="10.00" fill="#222" font-weight="normal" >2</text>
<line x1="340.75" y1="48.10" x2="369.05" y2="48.10" stroke="#1414f0" stroke-width="2.90" stroke-linecap="round"/>
<text transform="translate(377.79,52.70) scale(0.814,1)" font-family="'Liberation Serif', serif" font-weight="normal" font-style="normal" font-size="14.50" fill="#222" stroke="#222" stroke-width="0.25">T</text>
<text transform="translate(385.01,52.70) scale(0.983,1)" font-family="'Liberation Serif', serif" font-weight="normal" font-style="normal" font-size="14.50" fill="#222" stroke="#222" stroke-width="0.25">h</text>
<text transform="translate(392.45,52.70) scale(1.000,1)" font-family="'Liberation Serif', serif" font-weight="normal" font-style="normal" font-size="14.50" fill="#222" stroke="#222" stroke-width="0.25">e</text>
<text transform="translate(407.53,52.70) scale(1.210,1)" font-family="'Liberation Serif', serif" font-weight="normal" font-style="normal" font-size="14.50" fill="#222" stroke="#222" stroke-width="0.25">t</text>
<text transform="translate(414.55,52.70) scale(1.043,1)" font-family="'Liberation Serif', serif" font-weight="normal" font-style="normal" font-size="14.50" fill="#222" stroke="#222" stroke-width="0.25">r</text>
<text transform="translate(421.59,52.70) scale(1.334,1)" font-family="'Liberation Serif', serif" font-weight="normal" font-style="normal" font-size="14.50" fill="#222" stroke="#222" stroke-width="0.25">i</text>
<text transform="translate(427.99,52.70) scale(1.000,1)" font-family="'Liberation Serif', serif" font-weight="normal" font-style="normal" font-size="14.50" fill="#222" stroke="#222" stroke-width="0.25">p</text>
<text transform="translate(435.91,52.70) scale(1.334,1)" font-family="'Liberation Serif', serif" font-weight="normal" font-style="normal" font-size="14.50" fill="#222" stroke="#222" stroke-width="0.25">l</text>
<text transform="translate(442.50,52.70) scale(1.000,1)" font-family="'Liberation Serif', serif" font-weight="normal" font-style="normal" font-size="14.50" fill="#222" stroke="#222" stroke-width="0.25">e</text>
<text transform="translate(449.94,52.70) scale(1.221,1)" font-family="'Liberation Serif', serif" font-weight="normal" font-style="normal" font-size="14.50" fill="#222" stroke="#222" stroke-width="0.25">-</text>
<text transform="translate(456.25,52.70) scale(0.962,1)" font-family="'Liberation Serif', serif" font-weight="normal" font-style="normal" font-size="14.50" fill="#222" stroke="#222" stroke-width="0.25">P</text>
<text transform="translate(464.26,52.70) scale(1.212,1)" font-family="'Liberation Serif', serif" font-weight="normal" font-style="normal" font-size="14.50" fill="#222" stroke="#222" stroke-width="0.25">I</text>
<text transform="translate(470.74,52.70) scale(0.814,1)" font-family="'Liberation Serif', serif" font-weight="normal" font-style="normal" font-size="14.50" fill="#222" stroke="#222" stroke-width="0.25">T</text>
<text transform="translate(44.0,144.1) scale(1.12,1)" font-family="'Liberation Sans', sans-serif" font-size="12.5" font-weight="bold" fill="#222">(a)</text>
<text transform="translate(44.8,326.4) scale(1.12,1)" font-family="'Liberation Sans', sans-serif" font-size="12.5" font-weight="bold" fill="#222">(b)</text>
<text transform="translate(310.2,290.3) scale(1.08,1)" font-family="'Liberation Sans', sans-serif" font-size="12.5" font-weight="bold" fill="#111">(c)</text>
<text x="430.10" y="113.00" font-family="'Liberation Serif', serif" font-size="7.4" font-weight="bold" fill="#111" stroke="#111" stroke-width="0.25">peak1</text>
<text x="489.20" y="104.60" font-family="'Liberation Serif', serif" font-size="7.4" font-weight="bold" fill="#111" stroke="#111" stroke-width="0.25">peak2</text>
<text x="535.40" y="111.70" font-family="'Liberation Serif', serif" font-size="7.4" font-weight="bold" fill="#111" stroke="#111" stroke-width="0.25">peak3</text>
<text x="417.80" y="255.20" font-family="'Liberation Serif', serif" font-size="7.4" font-weight="bold" fill="#111" stroke="#111" stroke-width="0.25">dip1</text>
<text x="465.40" y="271.40" font-family="'Liberation Serif', serif" font-size="7.4" font-weight="bold" fill="#111" stroke="#111" stroke-width="0.25">dip2</text>
<text x="519.60" y="259.40" font-family="'Liberation Serif', serif" font-size="7.4" font-weight="bold" fill="#111" stroke="#111" stroke-width="0.25">dip3</text>
<text x="559.80" y="249.80" font-family="'Liberation Serif', serif" font-size="7.4" font-weight="bold" fill="#111" stroke="#111" stroke-width="0.25">dip4</text>
<text transform="translate(403.60,242.80) scale(1.15,1)" font-family="'Liberation Serif', serif" font-size="17" font-weight="bold" font-style="italic" fill="#1c1cf0" stroke="#1c1cf0" stroke-width="0.6">f</text>
<text x="412.50" y="246.40" font-family="'Liberation Serif', serif" font-size="12" font-weight="bold" fill="#1c1cf0" stroke="#1c1cf0" stroke-width="0.35">1</text>
<text transform="translate(451.00,262.60) scale(1.15,1)" font-family="'Liberation Serif', serif" font-size="17" font-weight="bold" font-style="italic" fill="#1c1cf0" stroke="#1c1cf0" stroke-width="0.6">f</text>
<text x="459.90" y="266.20" font-family="'Liberation Serif', serif" font-size="12" font-weight="bold" fill="#1c1cf0" stroke="#1c1cf0" stroke-width="0.35">2</text>
<text transform="translate(531.60,249.80) scale(1.15,1)" font-family="'Liberation Serif', serif" font-size="17" font-weight="bold" font-style="italic" fill="#1c1cf0" stroke="#1c1cf0" stroke-width="0.6">f</text>
<text x="540.50" y="253.40" font-family="'Liberation Serif', serif" font-size="12" font-weight="bold" fill="#1c1cf0" stroke="#1c1cf0" stroke-width="0.35">3</text>
<text transform="translate(571.20,237.80) scale(1.15,1)" font-family="'Liberation Serif', serif" font-size="17" font-weight="bold" font-style="italic" fill="#1c1cf0" stroke="#1c1cf0" stroke-width="0.6">f</text>
<text x="580.10" y="241.40" font-family="'Liberation Serif', serif" font-size="12" font-weight="bold" fill="#1c1cf0" stroke="#1c1cf0" stroke-width="0.35">4</text>
</svg>
</body></html>
